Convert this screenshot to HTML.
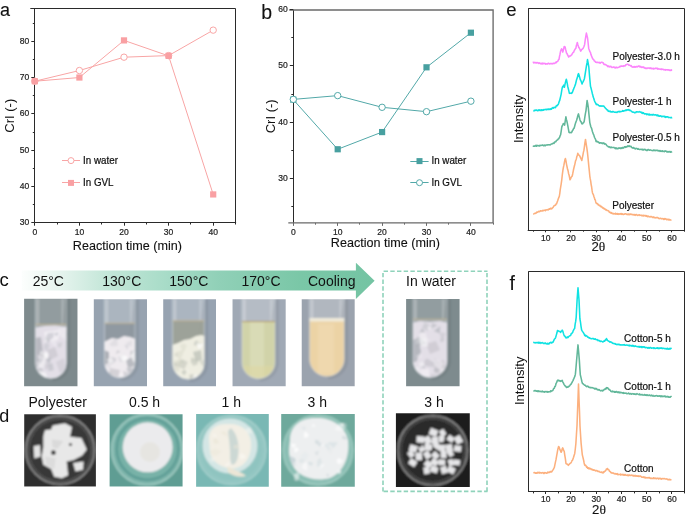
<!DOCTYPE html>
<html><head><meta charset="utf-8"><style>
html,body{margin:0;padding:0;background:#fff;}
body{width:685px;height:515px;overflow:hidden;position:relative;}
svg{position:absolute;left:0;top:0;font-family:"Liberation Sans", sans-serif;will-change:transform;}
</style></head><body>
<svg width="685" height="515" viewBox="0 0 685 515">
<line x1="34.50" y1="8.60" x2="34.50" y2="222.70" stroke="#2a2a2a" stroke-width="1" />
<line x1="30.30" y1="8.50" x2="235.60" y2="8.50" stroke="#2a2a2a" stroke-width="1" />
<line x1="235.50" y1="8.60" x2="235.50" y2="223.20" stroke="#2a2a2a" stroke-width="1" />
<line x1="34.80" y1="222.50" x2="236.10" y2="222.50" stroke="#2a2a2a" stroke-width="1" />
<line x1="31.30" y1="222.50" x2="34.80" y2="222.50" stroke="#2a2a2a" stroke-width="1" />
<text transform="translate(29.20,225.10) scale(0.93,1)" font-size="9.2" text-anchor="end" fill="#222" stroke="#222" stroke-width="0.22" >30</text>
<line x1="31.30" y1="186.50" x2="34.80" y2="186.50" stroke="#2a2a2a" stroke-width="1" />
<text transform="translate(29.20,188.85) scale(0.93,1)" font-size="9.2" text-anchor="end" fill="#222" stroke="#222" stroke-width="0.22" >40</text>
<line x1="31.30" y1="150.50" x2="34.80" y2="150.50" stroke="#2a2a2a" stroke-width="1" />
<text transform="translate(29.20,152.60) scale(0.93,1)" font-size="9.2" text-anchor="end" fill="#222" stroke="#222" stroke-width="0.22" >50</text>
<line x1="31.30" y1="113.50" x2="34.80" y2="113.50" stroke="#2a2a2a" stroke-width="1" />
<text transform="translate(29.20,116.35) scale(0.93,1)" font-size="9.2" text-anchor="end" fill="#222" stroke="#222" stroke-width="0.22" >60</text>
<line x1="31.30" y1="77.50" x2="34.80" y2="77.50" stroke="#2a2a2a" stroke-width="1" />
<text transform="translate(29.20,80.10) scale(0.93,1)" font-size="9.2" text-anchor="end" fill="#222" stroke="#222" stroke-width="0.22" >70</text>
<line x1="31.30" y1="41.50" x2="34.80" y2="41.50" stroke="#2a2a2a" stroke-width="1" />
<text transform="translate(29.20,43.85) scale(0.93,1)" font-size="9.2" text-anchor="end" fill="#222" stroke="#222" stroke-width="0.22" >80</text>
<line x1="32.80" y1="204.50" x2="34.80" y2="204.50" stroke="#2a2a2a" stroke-width="1" />
<line x1="32.80" y1="168.50" x2="34.80" y2="168.50" stroke="#2a2a2a" stroke-width="1" />
<line x1="32.80" y1="132.50" x2="34.80" y2="132.50" stroke="#2a2a2a" stroke-width="1" />
<line x1="32.80" y1="95.50" x2="34.80" y2="95.50" stroke="#2a2a2a" stroke-width="1" />
<line x1="32.80" y1="59.50" x2="34.80" y2="59.50" stroke="#2a2a2a" stroke-width="1" />
<line x1="32.80" y1="23.50" x2="34.80" y2="23.50" stroke="#2a2a2a" stroke-width="1" />
<line x1="34.50" y1="222.70" x2="34.50" y2="225.70" stroke="#2a2a2a" stroke-width="1" />
<text transform="translate(34.80,235.00) scale(0.93,1)" font-size="9.2" text-anchor="middle" fill="#222" stroke="#222" stroke-width="0.22" >0</text>
<line x1="79.50" y1="222.70" x2="79.50" y2="225.70" stroke="#2a2a2a" stroke-width="1" />
<text transform="translate(79.40,235.00) scale(0.93,1)" font-size="9.2" text-anchor="middle" fill="#222" stroke="#222" stroke-width="0.22" >10</text>
<line x1="124.50" y1="222.70" x2="124.50" y2="225.70" stroke="#2a2a2a" stroke-width="1" />
<text transform="translate(124.00,235.00) scale(0.93,1)" font-size="9.2" text-anchor="middle" fill="#222" stroke="#222" stroke-width="0.22" >20</text>
<line x1="168.50" y1="222.70" x2="168.50" y2="225.70" stroke="#2a2a2a" stroke-width="1" />
<text transform="translate(168.60,235.00) scale(0.93,1)" font-size="9.2" text-anchor="middle" fill="#222" stroke="#222" stroke-width="0.22" >30</text>
<line x1="213.50" y1="222.70" x2="213.50" y2="225.70" stroke="#2a2a2a" stroke-width="1" />
<text transform="translate(213.20,235.00) scale(0.93,1)" font-size="9.2" text-anchor="middle" fill="#222" stroke="#222" stroke-width="0.22" >40</text>
<line x1="57.50" y1="222.70" x2="57.50" y2="224.50" stroke="#2a2a2a" stroke-width="1" />
<line x1="101.50" y1="222.70" x2="101.50" y2="224.50" stroke="#2a2a2a" stroke-width="1" />
<line x1="146.50" y1="222.70" x2="146.50" y2="224.50" stroke="#2a2a2a" stroke-width="1" />
<line x1="190.50" y1="222.70" x2="190.50" y2="224.50" stroke="#2a2a2a" stroke-width="1" />
<line x1="235.50" y1="222.70" x2="235.50" y2="224.50" stroke="#2a2a2a" stroke-width="1" />
<text transform="translate(14.00,115.70) rotate(-90)" font-size="13" text-anchor="middle" fill="#111">CrI (-)</text>
<text x="127.40" y="250.00" font-size="12.6" text-anchor="middle" fill="#111" stroke="#111" stroke-width="0.12" >Reaction time (min)</text>
<text x="0.00" y="16.30" font-size="18" text-anchor="start" fill="#111" stroke="#111" stroke-width="0.12" >a</text>
<polyline points="34.80,81.22 79.40,70.52 124.00,57.18 168.60,55.59 213.20,30.14" fill="none" stroke="#F8A5A5" stroke-width="1" stroke-linejoin="round"/>
<polyline points="34.80,81.22 79.40,77.52 124.00,40.40 168.60,55.88 213.20,194.43" fill="none" stroke="#F8A5A5" stroke-width="1" stroke-linejoin="round"/>
<circle cx="34.80" cy="81.22" r="3.2" fill="#fff" stroke="#F8A5A5" stroke-width="1"/>
<circle cx="79.40" cy="70.52" r="3.2" fill="#fff" stroke="#F8A5A5" stroke-width="1"/>
<circle cx="124.00" cy="57.18" r="3.2" fill="#fff" stroke="#F8A5A5" stroke-width="1"/>
<circle cx="168.60" cy="55.59" r="3.2" fill="#fff" stroke="#F8A5A5" stroke-width="1"/>
<circle cx="213.20" cy="30.14" r="3.2" fill="#fff" stroke="#F8A5A5" stroke-width="1"/>
<rect x="31.70" y="78.12" width="6.2" height="6.2" fill="#F9A0A3"/>
<rect x="76.30" y="74.42" width="6.2" height="6.2" fill="#F9A0A3"/>
<rect x="120.90" y="37.30" width="6.2" height="6.2" fill="#F9A0A3"/>
<rect x="165.50" y="52.78" width="6.2" height="6.2" fill="#F9A0A3"/>
<rect x="210.10" y="191.33" width="6.2" height="6.2" fill="#F9A0A3"/>
<line x1="62.00" y1="160.50" x2="80.00" y2="160.50" stroke="#F8A5A5" stroke-width="1" />
<circle cx="71.00" cy="160.60" r="3.0" fill="#fff" stroke="#F8A5A5" stroke-width="1"/>
<text transform="translate(83.10,163.80) scale(0.97,1)" font-size="10.1" text-anchor="start" fill="#111" stroke="#111" stroke-width="0.22" >In water</text>
<line x1="62.00" y1="182.50" x2="80.00" y2="182.50" stroke="#F8A5A5" stroke-width="1" />
<rect x="68.00" y="179.90" width="6.0" height="6.0" fill="#F9A0A3"/>
<text transform="translate(83.10,185.90) scale(0.97,1)" font-size="10.1" text-anchor="start" fill="#111" stroke="#111" stroke-width="0.22" >In GVL</text>
<line x1="293.50" y1="10.00" x2="293.50" y2="222.90" stroke="#2a2a2a" stroke-width="1" />
<path d="M289.3,10.0 L493.1,10.0 L493.1,222.9 M288.3,222.9 L493.8,222.9" fill="none" stroke="#6a6a6a" stroke-width="1.35"/>
<line x1="289.80" y1="178.50" x2="293.30" y2="178.50" stroke="#2a2a2a" stroke-width="1" />
<text transform="translate(287.80,180.70) scale(0.93,1)" font-size="9.2" text-anchor="end" fill="#222" stroke="#222" stroke-width="0.22" >30</text>
<line x1="289.80" y1="122.50" x2="293.30" y2="122.50" stroke="#2a2a2a" stroke-width="1" />
<text transform="translate(287.80,124.53) scale(0.93,1)" font-size="9.2" text-anchor="end" fill="#222" stroke="#222" stroke-width="0.22" >40</text>
<line x1="289.80" y1="65.50" x2="293.30" y2="65.50" stroke="#2a2a2a" stroke-width="1" />
<text transform="translate(287.80,68.36) scale(0.93,1)" font-size="9.2" text-anchor="end" fill="#222" stroke="#222" stroke-width="0.22" >50</text>
<line x1="289.80" y1="9.50" x2="293.30" y2="9.50" stroke="#2a2a2a" stroke-width="1" />
<text transform="translate(287.80,12.19) scale(0.93,1)" font-size="9.2" text-anchor="end" fill="#222" stroke="#222" stroke-width="0.22" >60</text>
<line x1="291.30" y1="206.50" x2="293.30" y2="206.50" stroke="#2a2a2a" stroke-width="1" />
<line x1="291.30" y1="150.50" x2="293.30" y2="150.50" stroke="#2a2a2a" stroke-width="1" />
<line x1="291.30" y1="94.50" x2="293.30" y2="94.50" stroke="#2a2a2a" stroke-width="1" />
<line x1="291.30" y1="37.50" x2="293.30" y2="37.50" stroke="#2a2a2a" stroke-width="1" />
<line x1="293.50" y1="222.90" x2="293.50" y2="225.90" stroke="#6a6a6a" stroke-width="1" />
<text transform="translate(293.30,235.30) scale(0.93,1)" font-size="9.2" text-anchor="middle" fill="#222" stroke="#222" stroke-width="0.22" >0</text>
<line x1="337.50" y1="222.90" x2="337.50" y2="225.90" stroke="#6a6a6a" stroke-width="1" />
<text transform="translate(337.70,235.30) scale(0.93,1)" font-size="9.2" text-anchor="middle" fill="#222" stroke="#222" stroke-width="0.22" >10</text>
<line x1="382.50" y1="222.90" x2="382.50" y2="225.90" stroke="#6a6a6a" stroke-width="1" />
<text transform="translate(382.10,235.30) scale(0.93,1)" font-size="9.2" text-anchor="middle" fill="#222" stroke="#222" stroke-width="0.22" >20</text>
<line x1="426.50" y1="222.90" x2="426.50" y2="225.90" stroke="#6a6a6a" stroke-width="1" />
<text transform="translate(426.50,235.30) scale(0.93,1)" font-size="9.2" text-anchor="middle" fill="#222" stroke="#222" stroke-width="0.22" >30</text>
<line x1="470.50" y1="222.90" x2="470.50" y2="225.90" stroke="#6a6a6a" stroke-width="1" />
<text transform="translate(470.90,235.30) scale(0.93,1)" font-size="9.2" text-anchor="middle" fill="#222" stroke="#222" stroke-width="0.22" >40</text>
<line x1="315.50" y1="222.90" x2="315.50" y2="224.70" stroke="#6a6a6a" stroke-width="1" />
<line x1="359.50" y1="222.90" x2="359.50" y2="224.70" stroke="#6a6a6a" stroke-width="1" />
<line x1="404.50" y1="222.90" x2="404.50" y2="224.70" stroke="#6a6a6a" stroke-width="1" />
<line x1="448.50" y1="222.90" x2="448.50" y2="224.70" stroke="#6a6a6a" stroke-width="1" />
<line x1="493.50" y1="222.90" x2="493.50" y2="224.70" stroke="#6a6a6a" stroke-width="1" />
<text transform="translate(275.00,116.30) rotate(-90)" font-size="13" text-anchor="middle" fill="#111">CrI (-)</text>
<text x="385.40" y="247.20" font-size="12.6" text-anchor="middle" fill="#111" stroke="#111" stroke-width="0.12" >Reaction time (min)</text>
<text x="261.30" y="18.90" font-size="19.5" text-anchor="start" fill="#111" stroke="#111" stroke-width="0.12" >b</text>
<polyline points="293.30,99.66 337.70,149.26 382.10,132.07 426.50,67.31 470.90,32.71" fill="none" stroke="#52A8A8" stroke-width="1" stroke-linejoin="round"/>
<polyline points="293.30,99.38 337.70,95.62 382.10,107.30 426.50,111.68 470.90,101.18" fill="none" stroke="#52A8A8" stroke-width="1" stroke-linejoin="round"/>
<rect x="290.20" y="96.56" width="6.2" height="6.2" fill="#48A0A0"/>
<rect x="334.60" y="146.16" width="6.2" height="6.2" fill="#48A0A0"/>
<rect x="379.00" y="128.97" width="6.2" height="6.2" fill="#48A0A0"/>
<rect x="423.40" y="64.21" width="6.2" height="6.2" fill="#48A0A0"/>
<rect x="467.80" y="29.61" width="6.2" height="6.2" fill="#48A0A0"/>
<circle cx="293.30" cy="99.38" r="3.2" fill="#fff" stroke="#52A8A8" stroke-width="1"/>
<circle cx="337.70" cy="95.62" r="3.2" fill="#fff" stroke="#52A8A8" stroke-width="1"/>
<circle cx="382.10" cy="107.30" r="3.2" fill="#fff" stroke="#52A8A8" stroke-width="1"/>
<circle cx="426.50" cy="111.68" r="3.2" fill="#fff" stroke="#52A8A8" stroke-width="1"/>
<circle cx="470.90" cy="101.18" r="3.2" fill="#fff" stroke="#52A8A8" stroke-width="1"/>
<line x1="410.30" y1="161.50" x2="428.60" y2="161.50" stroke="#52A8A8" stroke-width="1" />
<rect x="416.50" y="158.10" width="6.0" height="6.0" fill="#48A0A0"/>
<text transform="translate(431.50,164.10) scale(0.94,1)" font-size="10.4" text-anchor="start" fill="#111" stroke="#111" stroke-width="0.22" >In water</text>
<line x1="410.30" y1="182.50" x2="428.60" y2="182.50" stroke="#52A8A8" stroke-width="1" />
<circle cx="419.50" cy="182.70" r="3.0" fill="#fff" stroke="#52A8A8" stroke-width="1"/>
<text transform="translate(431.50,186.10) scale(0.94,1)" font-size="10.4" text-anchor="start" fill="#111" stroke="#111" stroke-width="0.22" >In GVL</text>
<line x1="528.50" y1="8.50" x2="528.50" y2="230.10" stroke="#2a2a2a" stroke-width="1" />
<line x1="528.20" y1="8.50" x2="684.50" y2="8.50" stroke="#2a2a2a" stroke-width="1" />
<line x1="684.50" y1="8.50" x2="684.50" y2="230.60" stroke="#2a2a2a" stroke-width="1" />
<line x1="527.70" y1="230.50" x2="685.00" y2="230.50" stroke="#2a2a2a" stroke-width="1" />
<line x1="545.50" y1="230.10" x2="545.50" y2="232.30" stroke="#2a2a2a" stroke-width="1" />
<text transform="translate(545.74,240.80) scale(0.95,1)" font-size="9.0" text-anchor="middle" fill="#222" stroke="#222" stroke-width="0.22" >10</text>
<line x1="570.50" y1="230.10" x2="570.50" y2="232.30" stroke="#2a2a2a" stroke-width="1" />
<text transform="translate(570.98,240.80) scale(0.95,1)" font-size="9.0" text-anchor="middle" fill="#222" stroke="#222" stroke-width="0.22" >20</text>
<line x1="596.50" y1="230.10" x2="596.50" y2="232.30" stroke="#2a2a2a" stroke-width="1" />
<text transform="translate(596.22,240.80) scale(0.95,1)" font-size="9.0" text-anchor="middle" fill="#222" stroke="#222" stroke-width="0.22" >30</text>
<line x1="621.50" y1="230.10" x2="621.50" y2="232.30" stroke="#2a2a2a" stroke-width="1" />
<text transform="translate(621.46,240.80) scale(0.95,1)" font-size="9.0" text-anchor="middle" fill="#222" stroke="#222" stroke-width="0.22" >40</text>
<line x1="646.50" y1="230.10" x2="646.50" y2="232.30" stroke="#2a2a2a" stroke-width="1" />
<text transform="translate(646.70,240.80) scale(0.95,1)" font-size="9.0" text-anchor="middle" fill="#222" stroke="#222" stroke-width="0.22" >50</text>
<line x1="671.50" y1="230.10" x2="671.50" y2="232.30" stroke="#2a2a2a" stroke-width="1" />
<text transform="translate(671.94,240.80) scale(0.95,1)" font-size="9.0" text-anchor="middle" fill="#222" stroke="#222" stroke-width="0.22" >60</text>
<line x1="533.50" y1="230.10" x2="533.50" y2="231.70" stroke="#2a2a2a" stroke-width="1" />
<line x1="558.50" y1="230.10" x2="558.50" y2="231.70" stroke="#2a2a2a" stroke-width="1" />
<line x1="583.50" y1="230.10" x2="583.50" y2="231.70" stroke="#2a2a2a" stroke-width="1" />
<line x1="608.50" y1="230.10" x2="608.50" y2="231.70" stroke="#2a2a2a" stroke-width="1" />
<line x1="634.50" y1="230.10" x2="634.50" y2="231.70" stroke="#2a2a2a" stroke-width="1" />
<line x1="659.50" y1="230.10" x2="659.50" y2="231.70" stroke="#2a2a2a" stroke-width="1" />
<line x1="684.50" y1="230.10" x2="684.50" y2="231.70" stroke="#2a2a2a" stroke-width="1" />
<text transform="translate(523.20,118.90) rotate(-90)" font-size="13" text-anchor="middle" fill="#111">Intensity</text>
<text x="598.30" y="251.20" font-size="13.2" text-anchor="middle" fill="#111" stroke="#111" stroke-width="0.12" >2<tspan font-family="Liberation Serif" font-size="13.5">θ</tspan></text>
<text x="506.30" y="16.30" font-size="18.5" text-anchor="start" fill="#111" stroke="#111" stroke-width="0.12" >e</text>
<line x1="528.50" y1="271.30" x2="528.50" y2="491.80" stroke="#2a2a2a" stroke-width="1" />
<line x1="528.50" y1="271.50" x2="684.20" y2="271.50" stroke="#2a2a2a" stroke-width="1" />
<line x1="684.50" y1="271.30" x2="684.50" y2="492.30" stroke="#2a2a2a" stroke-width="1" />
<line x1="528.00" y1="491.50" x2="684.70" y2="491.50" stroke="#2a2a2a" stroke-width="1" />
<line x1="545.50" y1="491.80" x2="545.50" y2="494.00" stroke="#2a2a2a" stroke-width="1" />
<text transform="translate(545.74,502.40) scale(0.95,1)" font-size="9.0" text-anchor="middle" fill="#222" stroke="#222" stroke-width="0.22" >10</text>
<line x1="570.50" y1="491.80" x2="570.50" y2="494.00" stroke="#2a2a2a" stroke-width="1" />
<text transform="translate(570.98,502.40) scale(0.95,1)" font-size="9.0" text-anchor="middle" fill="#222" stroke="#222" stroke-width="0.22" >20</text>
<line x1="596.50" y1="491.80" x2="596.50" y2="494.00" stroke="#2a2a2a" stroke-width="1" />
<text transform="translate(596.22,502.40) scale(0.95,1)" font-size="9.0" text-anchor="middle" fill="#222" stroke="#222" stroke-width="0.22" >30</text>
<line x1="621.50" y1="491.80" x2="621.50" y2="494.00" stroke="#2a2a2a" stroke-width="1" />
<text transform="translate(621.46,502.40) scale(0.95,1)" font-size="9.0" text-anchor="middle" fill="#222" stroke="#222" stroke-width="0.22" >40</text>
<line x1="646.50" y1="491.80" x2="646.50" y2="494.00" stroke="#2a2a2a" stroke-width="1" />
<text transform="translate(646.70,502.40) scale(0.95,1)" font-size="9.0" text-anchor="middle" fill="#222" stroke="#222" stroke-width="0.22" >50</text>
<line x1="671.50" y1="491.80" x2="671.50" y2="494.00" stroke="#2a2a2a" stroke-width="1" />
<text transform="translate(671.94,502.40) scale(0.95,1)" font-size="9.0" text-anchor="middle" fill="#222" stroke="#222" stroke-width="0.22" >60</text>
<line x1="533.50" y1="491.80" x2="533.50" y2="493.40" stroke="#2a2a2a" stroke-width="1" />
<line x1="558.50" y1="491.80" x2="558.50" y2="493.40" stroke="#2a2a2a" stroke-width="1" />
<line x1="583.50" y1="491.80" x2="583.50" y2="493.40" stroke="#2a2a2a" stroke-width="1" />
<line x1="608.50" y1="491.80" x2="608.50" y2="493.40" stroke="#2a2a2a" stroke-width="1" />
<line x1="634.50" y1="491.80" x2="634.50" y2="493.40" stroke="#2a2a2a" stroke-width="1" />
<line x1="659.50" y1="491.80" x2="659.50" y2="493.40" stroke="#2a2a2a" stroke-width="1" />
<line x1="684.50" y1="491.80" x2="684.50" y2="493.40" stroke="#2a2a2a" stroke-width="1" />
<text transform="translate(523.60,380.80) rotate(-90)" font-size="13" text-anchor="middle" fill="#111">Intensity</text>
<text x="599.00" y="514.30" font-size="13.2" text-anchor="middle" fill="#111" stroke="#111" stroke-width="0.12" >2<tspan font-family="Liberation Serif" font-size="13.5">θ</tspan></text>
<text x="509.50" y="289.80" font-size="19.5" text-anchor="start" fill="#111" stroke="#111" stroke-width="0.12" >f</text>
<polyline points="532.70,62.42 533.17,62.30 533.63,62.84 534.10,62.31 534.57,62.82 535.03,62.70 535.50,62.44 535.97,62.93 536.43,62.51 536.90,62.95 537.37,62.64 537.83,62.70 538.30,63.08 538.77,63.53 539.23,62.88 539.70,63.02 540.17,63.47 540.63,63.83 541.10,63.50 541.57,63.36 542.03,63.98 542.50,63.09 542.97,63.94 543.43,63.41 543.90,63.30 544.37,63.32 544.83,63.55 545.30,64.10 545.77,63.50 546.23,63.94 546.70,64.04 547.17,63.75 547.63,63.89 548.10,63.38 548.57,63.35 549.03,63.47 549.50,63.92 549.97,63.64 550.43,63.50 550.90,63.75 551.37,63.59 551.83,63.41 552.30,63.87 552.77,63.75 553.23,63.27 553.70,63.57 554.20,63.28 554.70,63.39 555.20,63.00 555.70,62.32 556.20,62.77 556.70,61.66 557.20,61.72 557.80,61.29 558.40,59.92 559.00,59.49 559.50,56.31 560.00,54.20 560.50,51.56 561.05,49.92 561.60,48.78 562.20,49.96 562.80,52.10 563.27,50.23 563.73,48.45 564.20,46.56 565.10,46.94 565.57,49.18 566.03,50.84 566.50,53.16 567.02,53.44 567.55,54.95 568.08,55.77 568.60,56.99 569.12,56.64 569.64,55.92 570.16,55.85 570.68,55.95 571.20,55.12 571.68,54.85 572.17,53.83 572.65,53.07 573.13,52.29 573.62,52.28 574.10,50.93 574.70,49.88 575.30,48.86 575.90,48.17 576.37,45.61 576.83,44.22 577.30,42.55 577.80,44.45 578.30,45.95 578.80,47.56 579.25,47.85 579.70,48.87 580.15,49.68 580.60,51.08 581.06,50.80 581.52,49.63 581.98,49.30 582.44,48.99 582.90,48.63 583.47,47.55 584.03,46.32 584.60,44.66 585.10,40.85 585.60,37.72 586.40,33.07 587.00,35.57 587.60,38.25 588.15,43.29 588.70,48.42 589.30,50.05 589.90,51.64 590.50,52.55 590.96,54.58 591.42,55.64 591.88,56.91 592.34,58.02 592.80,58.79 593.28,59.42 593.77,59.74 594.25,60.88 594.73,60.93 595.22,61.55 595.70,62.31 596.20,62.32 596.70,62.55 597.20,62.32 597.70,62.33 598.20,62.54 598.70,62.54 599.20,62.86 599.70,62.43 600.20,63.17 600.70,62.81 601.20,62.25 601.70,62.25 602.20,62.25 602.68,62.65 603.17,62.79 603.65,63.90 604.13,64.43 604.62,64.28 605.10,64.68 605.64,64.61 606.18,64.94 606.72,65.50 607.26,65.74 607.80,66.63 608.25,66.04 608.71,65.98 609.16,66.98 609.61,66.63 610.06,66.33 610.52,66.80 610.97,66.36 611.42,66.94 611.88,67.47 612.33,67.43 612.78,67.34 613.24,66.98 613.69,67.16 614.14,67.04 614.59,67.72 615.05,67.56 615.50,67.88 615.95,67.34 616.41,67.15 616.86,67.65 617.31,67.74 617.77,67.52 618.22,67.39 618.67,67.31 619.13,67.15 619.58,66.55 620.03,66.75 620.49,66.50 620.94,66.09 621.39,66.00 621.85,66.17 622.30,66.06 622.78,66.33 623.27,66.42 623.75,65.75 624.23,66.07 624.72,65.95 625.20,65.76 625.68,65.00 626.17,64.69 626.65,64.53 627.13,64.33 627.62,64.17 628.10,64.42 628.59,64.97 629.08,65.18 629.57,65.09 630.06,65.53 630.55,65.95 631.04,65.50 631.53,66.35 632.02,66.87 632.51,67.01 633.00,67.25 633.48,66.92 633.97,66.56 634.45,67.11 634.93,66.60 635.42,67.01 635.90,67.12 636.38,66.49 636.87,66.43 637.35,66.92 637.83,66.64 638.32,66.03 638.80,65.93 639.26,66.06 639.72,66.93 640.18,66.94 640.64,66.39 641.09,67.19 641.55,67.45 642.01,67.24 642.47,67.04 642.93,67.35 643.39,67.05 643.85,67.04 644.31,68.11 644.76,67.90 645.22,67.89 645.68,68.41 646.14,68.02 646.60,68.57 647.06,68.55 647.52,67.95 647.99,68.01 648.45,68.07 648.91,68.04 649.37,68.40 649.83,68.09 650.30,68.27 650.76,68.00 651.22,68.80 651.68,68.26 652.14,68.39 652.60,68.53 653.07,68.87 653.53,68.41 653.99,68.92 654.45,68.53 654.91,68.57 655.38,68.59 655.84,68.10 656.30,68.54 656.75,68.34 657.21,68.22 657.66,69.08 658.11,68.51 658.56,68.87 659.02,69.18 659.47,69.07 659.92,68.90 660.38,69.15 660.83,69.24 661.28,69.53 661.74,68.91 662.19,69.43 662.64,69.17 663.09,69.26 663.55,69.81 664.00,69.61 664.46,69.69 664.91,69.92 665.37,70.10 665.82,69.65 666.28,69.85 666.73,69.77 667.19,69.81 667.64,70.01 668.10,69.80 668.56,69.91 669.01,69.88 669.47,70.37 669.92,70.16 670.38,70.37 670.83,70.46 671.29,69.80 671.74,70.13 672.20,70.10" fill="none" stroke="#FB86FB" stroke-width="1.55" stroke-linejoin="round"/>
<polyline points="533.40,111.14 533.86,111.00 534.31,110.26 534.77,110.20 535.22,110.49 535.68,110.08 536.13,110.21 536.59,110.00 537.04,110.56 537.50,110.63 537.96,110.71 538.41,109.93 538.87,110.45 539.32,110.35 539.78,109.80 540.23,110.50 540.69,110.55 541.14,109.76 541.60,110.45 542.05,109.86 542.50,109.91 542.95,110.37 543.40,110.18 543.85,109.47 544.30,109.70 544.75,109.74 545.20,109.53 545.65,109.35 546.10,109.43 546.55,109.79 547.00,109.05 547.45,109.55 547.90,109.40 548.35,108.93 548.80,109.21 549.25,109.46 549.70,109.31 550.16,108.70 550.62,109.45 551.08,109.09 551.53,109.11 551.99,108.07 552.45,108.07 552.91,107.67 553.37,108.25 553.83,107.57 554.28,107.26 554.74,107.39 555.20,107.71 555.69,107.13 556.17,106.09 556.66,105.49 557.14,105.78 557.63,104.94 558.11,104.59 558.60,103.49 559.10,101.76 559.60,100.69 560.10,98.73 560.60,96.67 561.13,94.37 561.67,90.90 562.20,87.90 562.67,86.52 563.13,86.62 563.60,85.17 564.40,87.26 564.88,84.83 565.35,82.69 565.82,80.88 566.30,79.23 566.77,81.03 567.23,83.36 567.70,86.23 568.27,88.44 568.83,90.81 569.40,93.36 569.85,93.13 570.30,93.17 570.75,93.16 571.20,93.04 571.65,93.38 572.10,92.79 572.57,91.87 573.03,90.41 573.50,89.45 573.97,87.98 574.43,87.08 574.90,85.72 575.40,84.58 575.90,82.55 576.40,80.34 576.90,78.77 577.43,77.40 577.97,74.74 578.50,73.62 579.10,75.27 579.70,77.36 580.30,79.73 580.75,80.32 581.20,81.46 581.65,82.66 582.10,83.98 582.56,82.40 583.02,81.95 583.48,80.89 583.94,79.88 584.40,78.70 584.97,75.25 585.53,71.55 586.10,68.23 586.57,65.24 587.03,62.97 587.50,59.56 588.15,63.16 588.80,66.78 589.37,73.87 589.93,80.24 590.50,86.37 590.95,87.80 591.40,89.58 591.85,91.44 592.30,93.43 592.75,94.94 593.20,97.05 593.74,98.22 594.28,100.28 594.82,101.65 595.36,102.59 595.90,103.64 596.36,104.63 596.81,104.24 597.27,104.56 597.72,104.47 598.18,105.11 598.63,105.47 599.09,105.77 599.54,105.73 600.00,106.30 600.49,105.82 600.98,106.09 601.46,105.93 601.95,106.25 602.44,105.90 602.92,105.90 603.41,106.19 603.90,106.13 604.38,106.98 604.86,107.41 605.34,108.12 605.82,108.52 606.30,109.07 606.78,109.72 607.26,109.72 607.74,110.15 608.22,111.29 608.70,110.95 609.16,111.57 609.63,111.54 610.09,110.99 610.55,111.82 611.02,111.93 611.48,111.71 611.94,111.87 612.41,111.99 612.87,111.37 613.33,111.80 613.79,111.83 614.26,112.20 614.72,112.22 615.18,112.29 615.65,112.09 616.11,112.45 616.57,112.29 617.04,112.35 617.50,111.93 617.98,111.62 618.47,111.62 618.95,111.74 619.43,111.37 619.92,111.99 620.40,111.61 620.88,111.57 621.37,111.46 621.85,111.41 622.33,111.11 622.82,110.51 623.30,111.20 623.78,111.05 624.27,110.70 624.75,110.64 625.23,110.66 625.72,109.97 626.20,110.54 626.68,109.95 627.17,109.67 627.65,109.77 628.13,110.13 628.62,109.51 629.10,109.94 629.59,110.49 630.08,110.31 630.57,110.51 631.06,110.92 631.55,111.43 632.04,111.83 632.53,111.99 633.02,112.32 633.51,112.07 634.00,112.45 634.48,112.44 634.96,112.82 635.44,112.27 635.92,112.43 636.40,111.76 636.88,111.70 637.36,111.80 637.84,112.09 638.32,112.00 638.80,111.88 639.26,111.64 639.72,112.01 640.18,112.11 640.64,112.25 641.09,112.05 641.55,112.98 642.01,112.43 642.47,113.35 642.93,113.46 643.39,112.69 643.85,113.28 644.31,113.78 644.76,114.08 645.22,113.71 645.68,113.67 646.14,113.76 646.60,114.65 647.06,113.96 647.52,114.38 647.99,113.98 648.45,114.41 648.91,114.89 649.37,114.12 649.83,114.85 650.30,114.59 650.76,115.02 651.22,114.88 651.68,114.46 652.14,115.17 652.60,114.81 653.07,114.39 653.53,114.42 653.99,114.95 654.45,114.96 654.91,114.86 655.38,114.75 655.84,115.00 656.30,115.02 656.75,115.63 657.21,114.88 657.66,115.72 658.11,115.89 658.56,115.26 659.02,116.16 659.47,116.03 659.92,116.31 660.38,115.78 660.83,115.95 661.28,116.06 661.74,116.76 662.19,116.44 662.64,116.30 663.09,116.45 663.55,116.39 664.00,116.25 664.46,116.35 664.91,117.12 665.37,116.62 665.82,117.31 666.28,116.67 666.73,116.73 667.19,117.02 667.64,116.75 668.10,116.97 668.56,117.60 669.01,117.57 669.47,117.55 669.92,117.41 670.38,117.74 670.83,117.81 671.29,117.46 671.74,117.68 672.20,117.50" fill="none" stroke="#10E2E2" stroke-width="1.55" stroke-linejoin="round"/>
<polyline points="533.00,145.65 533.48,146.29 533.95,145.98 534.42,146.24 534.90,146.09 535.38,145.70 535.85,145.42 536.33,146.26 536.80,145.43 537.27,145.73 537.75,145.57 538.23,145.49 538.70,145.89 539.18,146.09 539.65,145.34 540.12,145.69 540.60,145.30 541.08,145.54 541.55,145.36 542.02,145.11 542.50,145.09 542.98,145.11 543.45,145.79 543.93,145.37 544.40,145.07 544.88,145.74 545.35,145.81 545.83,145.24 546.30,144.91 546.78,144.95 547.25,144.83 547.73,145.06 548.20,144.79 548.65,144.79 549.11,144.67 549.56,144.83 550.02,145.01 550.47,144.72 550.93,144.24 551.38,144.10 551.84,144.06 552.29,143.77 552.75,143.58 553.20,143.16 553.65,143.00 554.10,143.31 554.55,142.09 555.00,142.08 555.45,141.83 555.90,141.68 556.35,140.66 556.80,140.33 557.25,139.93 557.70,139.70 558.18,139.01 558.67,138.79 559.15,137.95 559.63,137.24 560.12,135.66 560.60,134.93 561.20,131.16 561.80,126.90 562.30,125.64 562.80,124.92 563.30,123.50 563.95,124.24 564.60,125.13 565.25,120.93 565.90,116.86 566.40,119.47 566.90,121.25 567.40,123.61 567.93,126.39 568.47,129.49 569.00,132.38 569.50,132.72 570.00,132.58 570.50,132.59 571.00,132.78 571.50,132.56 572.02,131.69 572.54,130.22 573.06,130.00 573.58,128.49 574.10,128.22 574.60,126.43 575.10,124.56 575.60,122.87 576.10,121.47 576.60,120.34 577.08,118.82 577.55,116.66 578.02,115.05 578.50,113.92 579.00,116.08 579.50,117.99 580.00,119.92 580.50,121.25 581.00,121.61 581.50,122.85 582.00,123.96 582.55,123.83 583.10,122.89 583.65,122.51 584.20,121.48 584.80,117.43 585.40,113.65 586.00,110.56 586.55,105.60 587.10,100.51 587.70,103.67 588.30,107.60 588.80,112.84 589.30,117.65 589.80,122.56 590.32,124.73 590.84,126.75 591.36,127.81 591.88,129.37 592.40,131.44 592.86,132.71 593.33,134.16 593.79,134.86 594.25,136.65 594.71,137.78 595.17,138.73 595.64,139.62 596.10,141.57 596.58,141.15 597.05,141.90 597.52,141.54 598.00,141.77 598.48,142.55 598.95,142.32 599.42,143.21 599.90,143.00 600.40,142.72 600.90,142.80 601.40,143.03 601.90,143.32 602.40,143.64 602.90,142.87 603.40,143.16 603.90,143.01 604.38,144.10 604.87,143.59 605.35,143.83 605.83,144.16 606.32,144.82 606.80,145.65 607.28,145.96 607.77,146.13 608.25,146.72 608.73,146.98 609.22,146.70 609.70,146.89 610.16,147.71 610.62,147.60 611.08,146.96 611.54,147.67 611.99,147.46 612.45,147.53 612.91,147.57 613.37,147.48 613.83,147.39 614.29,147.74 614.75,147.89 615.21,148.57 615.66,147.82 616.12,148.73 616.58,148.05 617.04,148.28 617.50,148.82 617.98,148.76 618.47,148.32 618.95,147.87 619.43,148.24 619.92,148.08 620.40,148.57 620.88,147.78 621.37,147.90 621.85,148.37 622.33,147.45 622.82,147.77 623.30,148.11 623.75,147.90 624.20,147.01 624.65,146.83 625.10,146.70 625.55,147.39 626.00,146.56 626.45,146.88 626.90,146.87 627.35,146.14 627.80,145.91 628.25,146.42 628.70,145.92 629.18,145.78 629.66,146.45 630.15,146.27 630.63,146.45 631.11,146.39 631.59,147.36 632.07,147.74 632.55,147.68 633.04,148.21 633.52,147.51 634.00,147.93 634.46,148.25 634.92,148.81 635.37,148.89 635.83,148.40 636.29,148.35 636.75,148.60 637.21,148.75 637.66,149.26 638.12,148.59 638.58,149.29 639.04,149.31 639.49,149.47 639.95,149.50 640.41,149.41 640.87,149.21 641.33,149.28 641.78,149.40 642.24,149.90 642.70,149.28 643.15,149.42 643.61,150.01 644.06,149.53 644.51,149.37 644.97,149.37 645.42,149.91 645.87,149.71 646.33,150.39 646.78,150.32 647.23,150.45 647.69,149.76 648.14,149.60 648.59,149.64 649.05,150.07 649.50,150.31 649.95,150.07 650.41,149.89 650.86,150.10 651.31,150.33 651.77,150.41 652.22,150.51 652.67,150.63 653.13,150.48 653.58,149.96 654.03,150.71 654.49,150.19 654.94,150.49 655.39,150.32 655.85,150.71 656.30,150.20 656.75,150.29 657.21,150.33 657.66,150.28 658.12,151.06 658.57,150.79 659.03,150.58 659.48,150.70 659.93,151.34 660.39,150.89 660.84,150.66 661.30,151.28 661.75,151.17 662.21,151.55 662.66,150.70 663.11,151.12 663.57,151.50 664.02,151.57 664.48,151.69 664.93,150.85 665.39,151.15 665.84,151.02 666.29,151.13 666.75,151.96 667.20,151.61 667.66,152.00 668.11,151.49 668.57,152.02 669.02,151.65 669.47,151.50 669.93,152.06 670.38,152.27 670.84,151.48 671.29,152.01 671.75,152.08 672.20,152.00" fill="none" stroke="#62B79A" stroke-width="1.55" stroke-linejoin="round"/>
<polyline points="533.20,214.12 533.65,214.05 534.11,213.60 534.56,213.43 535.02,213.26 535.47,213.38 535.92,213.21 536.38,212.54 536.83,212.13 537.28,212.22 537.74,212.35 538.19,211.63 538.65,211.54 539.10,211.20 539.56,211.70 540.01,211.36 540.47,210.78 540.93,210.73 541.39,210.93 541.84,210.99 542.30,210.99 542.76,210.35 543.21,210.33 543.67,210.77 544.13,210.39 544.59,210.17 545.04,210.10 545.50,210.65 545.96,209.88 546.43,210.00 546.89,209.65 547.36,209.57 547.82,209.89 548.29,209.88 548.75,209.11 549.21,208.81 549.68,209.21 550.14,208.55 550.61,208.21 551.07,208.97 551.54,208.36 552.00,208.62 552.46,207.75 552.92,207.76 553.38,206.88 553.84,206.12 554.30,205.51 554.76,205.59 555.22,205.22 555.68,205.03 556.14,203.75 556.60,203.82 557.14,202.11 557.68,200.78 558.22,198.97 558.76,197.64 559.30,196.42 559.77,193.60 560.25,189.56 560.73,186.72 561.20,183.80 561.75,179.82 562.30,174.90 562.85,170.68 563.40,167.34 563.90,165.15 564.40,162.43 564.90,159.78 565.40,158.43 565.97,160.85 566.53,164.34 567.10,167.02 567.58,169.31 568.07,170.73 568.55,173.44 569.03,174.96 569.52,177.22 570.00,179.75 570.55,178.90 571.10,177.43 571.65,176.64 572.20,176.00 572.67,173.97 573.13,171.68 573.60,169.27 574.07,167.25 574.53,165.57 575.00,163.60 575.47,161.14 575.93,160.06 576.40,158.66 576.87,156.34 577.33,155.54 577.80,153.22 578.25,154.25 578.70,154.75 579.15,155.38 579.60,155.61 580.15,156.87 580.70,158.18 581.25,159.18 581.80,160.56 582.32,157.82 582.85,155.29 583.38,152.35 583.90,150.42 584.43,146.59 584.97,142.64 585.50,139.46 585.98,142.70 586.45,145.61 586.92,148.55 587.40,152.07 587.88,156.51 588.36,161.33 588.84,166.43 589.32,170.89 589.80,176.04 590.25,178.88 590.70,181.17 591.15,184.54 591.60,186.75 592.05,190.17 592.50,192.98 592.96,193.97 593.42,194.78 593.89,196.49 594.35,197.63 594.81,199.46 595.28,199.91 595.74,201.89 596.20,203.30 596.66,203.38 597.12,203.81 597.58,203.54 598.03,204.68 598.49,204.54 598.95,205.36 599.41,205.67 599.87,205.27 600.33,206.24 600.78,206.73 601.24,206.22 601.70,206.85 602.18,207.57 602.67,207.29 603.15,208.34 603.64,208.04 604.12,208.89 604.61,208.54 605.09,209.21 605.58,209.94 606.06,209.55 606.55,209.92 607.03,210.48 607.52,210.60 608.00,210.64 608.47,211.05 608.93,211.29 609.40,212.34 609.87,212.35 610.33,212.83 610.80,212.37 611.27,213.25 611.73,212.85 612.20,213.53 612.66,213.66 613.13,213.41 613.59,213.95 614.05,213.65 614.52,213.70 614.98,214.03 615.45,213.27 615.91,214.19 616.37,213.85 616.84,213.64 617.30,214.06 617.76,213.56 618.23,214.31 618.69,213.92 619.15,213.72 619.62,214.15 620.08,213.85 620.55,213.61 621.01,214.20 621.47,213.53 621.94,214.33 622.40,213.79 622.86,214.20 623.33,214.57 623.79,214.19 624.25,214.29 624.72,213.97 625.18,213.68 625.65,213.74 626.11,213.88 626.57,214.37 627.04,214.21 627.50,214.31 627.95,214.73 628.41,214.00 628.86,214.13 629.31,214.59 629.76,214.00 630.22,214.01 630.67,214.40 631.12,214.19 631.58,214.47 632.03,214.38 632.48,214.77 632.94,214.81 633.39,214.46 633.84,214.92 634.29,214.80 634.75,214.50 635.20,215.34 635.65,214.68 636.11,214.62 636.56,214.60 637.01,215.18 637.46,215.45 637.92,215.39 638.37,215.05 638.82,214.95 639.28,214.73 639.73,215.40 640.18,215.35 640.64,215.17 641.09,215.50 641.54,215.34 641.99,215.87 642.45,215.70 642.90,215.25 643.35,215.98 643.80,215.20 644.25,215.76 644.70,215.71 645.15,215.62 645.60,215.52 646.05,216.31 646.50,215.62 646.95,216.24 647.40,216.71 647.85,215.98 648.30,216.12 648.75,216.60 649.20,216.58 649.65,216.79 650.10,217.04 650.55,216.47 651.00,216.69 651.45,216.75 651.90,216.58 652.35,217.50 652.80,217.47 653.25,217.47 653.70,216.84 654.15,217.76 654.60,217.73 655.05,217.53 655.50,217.88 655.95,217.67 656.40,217.52 656.85,217.48 657.30,217.68 657.75,217.56 658.20,217.94 658.66,218.41 659.12,218.42 659.58,218.63 660.03,218.56 660.49,218.18 660.95,218.53 661.41,218.47 661.87,218.89 662.33,218.68 662.79,218.49 663.24,218.92 663.70,219.31 664.16,218.62 664.62,219.35 665.08,218.55 665.54,218.85 666.00,218.89 666.46,219.46 666.91,219.72 667.37,219.59 667.83,219.23 668.29,219.85 668.75,219.36 669.21,219.33 669.67,220.06 670.12,219.84 670.58,219.97 671.04,220.00 671.50,219.90" fill="none" stroke="#FCB07E" stroke-width="1.55" stroke-linejoin="round"/>
<text x="612.60" y="59.70" font-size="10" text-anchor="start" fill="#111" stroke="#111" stroke-width="0.22" >Polyester-3.0 h</text>
<text x="612.60" y="104.50" font-size="10" text-anchor="start" fill="#111" stroke="#111" stroke-width="0.22" >Polyester-1 h</text>
<text x="612.60" y="141.40" font-size="10" text-anchor="start" fill="#111" stroke="#111" stroke-width="0.22" >Polyester-0.5 h</text>
<text x="612.30" y="208.50" font-size="10" text-anchor="start" fill="#111" stroke="#111" stroke-width="0.22" >Polyester</text>
<polyline points="533.40,342.88 533.87,342.40 534.33,342.81 534.80,342.70 535.27,342.89 535.73,342.50 536.20,342.82 536.67,342.70 537.13,342.47 537.60,342.41 538.07,342.86 538.53,342.34 539.00,343.21 539.47,342.48 539.93,342.39 540.40,342.51 540.86,343.38 541.32,342.84 541.78,342.68 542.24,342.62 542.69,342.68 543.15,343.37 543.61,343.36 544.07,343.47 544.53,343.56 544.99,342.94 545.45,343.51 545.91,343.33 546.36,343.83 546.82,343.88 547.28,344.00 547.74,343.22 548.20,344.07 548.67,343.95 549.14,343.82 549.61,342.83 550.08,342.77 550.55,342.51 551.02,342.27 551.49,342.93 551.96,342.73 552.43,342.39 552.90,342.43 553.37,341.46 553.83,340.35 554.30,339.40 554.77,338.63 555.23,338.52 555.70,337.20 556.30,335.15 556.90,333.09 557.50,330.52 558.03,330.86 558.57,330.98 559.10,331.52 559.60,331.40 560.10,331.59 560.60,332.46 561.13,331.34 561.67,331.02 562.20,330.12 562.80,331.23 563.40,333.31 564.00,335.04 564.52,336.05 565.05,336.30 565.58,337.33 566.10,337.84 566.62,337.33 567.13,337.80 567.65,336.84 568.17,337.39 568.68,336.55 569.20,336.20 569.72,335.75 570.23,335.66 570.75,335.23 571.27,333.60 571.78,333.44 572.30,332.79 572.76,332.18 573.22,330.64 573.68,330.03 574.14,328.97 574.60,328.53 575.13,324.33 575.67,321.38 576.20,317.08 577.10,299.91 578.00,287.70 578.50,293.85 579.00,299.81 579.90,318.94 580.47,322.01 581.03,326.35 581.60,329.90 582.12,330.89 582.63,331.63 583.15,332.26 583.67,333.20 584.18,334.09 584.70,335.49 585.19,334.98 585.68,336.07 586.17,335.50 586.66,335.97 587.15,336.32 587.65,337.25 588.14,337.14 588.63,337.31 589.12,338.10 589.61,337.74 590.10,338.26 590.57,338.40 591.04,338.69 591.51,338.76 591.98,338.73 592.45,338.50 592.92,338.55 593.39,338.45 593.86,339.20 594.33,339.09 594.80,339.24 595.27,338.86 595.74,339.32 596.21,339.84 596.68,339.84 597.15,339.58 597.62,340.10 598.09,340.72 598.56,340.26 599.03,340.40 599.50,340.70 599.95,341.25 600.40,341.54 600.85,341.00 601.30,341.16 601.75,341.40 602.20,341.63 602.65,341.97 603.10,341.76 603.59,341.49 604.07,340.90 604.56,341.25 605.04,340.56 605.53,339.49 606.01,339.91 606.50,338.60 606.97,339.35 607.43,340.42 607.90,340.69 608.37,341.10 608.83,341.27 609.30,341.50 609.78,342.11 610.25,341.76 610.73,342.04 611.21,342.40 611.68,342.22 612.16,342.76 612.64,343.33 613.12,343.41 613.59,343.39 614.07,343.70 614.55,343.71 615.02,343.56 615.50,344.20 615.96,344.05 616.42,344.43 616.88,344.64 617.34,344.21 617.79,344.39 618.25,344.61 618.71,344.33 619.17,344.18 619.63,344.72 620.09,344.92 620.55,344.86 621.01,344.83 621.46,345.03 621.92,344.90 622.38,344.90 622.84,344.76 623.30,344.66 623.76,345.02 624.22,344.54 624.68,344.90 625.14,345.31 625.59,345.28 626.05,345.24 626.51,344.91 626.97,345.13 627.43,345.20 627.89,345.41 628.35,345.24 628.81,345.55 629.26,345.85 629.72,345.15 630.18,345.67 630.64,345.83 631.10,345.49 631.56,345.65 632.01,346.20 632.47,345.32 632.92,345.89 633.38,345.57 633.84,346.25 634.29,346.47 634.75,346.11 635.20,345.76 635.66,346.29 636.11,346.32 636.57,346.56 637.03,346.42 637.48,346.60 637.94,346.86 638.39,346.61 638.85,346.56 639.31,347.16 639.76,346.48 640.22,347.02 640.67,346.79 641.13,347.22 641.59,346.64 642.04,347.57 642.50,347.00 642.95,346.76 643.41,347.04 643.86,347.23 644.32,346.90 644.78,347.37 645.23,347.44 645.69,347.77 646.14,347.49 646.60,347.47 647.06,347.45 647.52,347.98 647.98,348.20 648.44,347.81 648.89,347.52 649.35,348.13 649.81,347.74 650.27,347.58 650.73,347.51 651.19,348.18 651.65,348.24 652.11,348.08 652.56,347.94 653.02,348.05 653.48,347.73 653.94,348.49 654.40,347.90 654.86,348.21 655.32,348.41 655.78,348.43 656.24,348.10 656.69,347.95 657.15,348.22 657.61,347.82 658.07,348.55 658.53,348.09 658.99,348.61 659.45,348.04 659.91,348.17 660.36,348.07 660.82,348.26 661.28,348.04 661.74,347.88 662.20,348.62 662.67,348.21 663.13,348.19 663.60,348.28 664.06,348.48 664.53,348.45 664.99,348.69 665.46,348.73 665.92,348.46 666.38,349.05 666.85,349.00 667.32,348.23 667.78,349.03 668.25,349.13 668.71,349.03 669.17,348.42 669.64,349.13 670.11,348.96 670.57,348.36 671.03,348.39 671.50,348.90" fill="none" stroke="#10E2E2" stroke-width="1.55" stroke-linejoin="round"/>
<polyline points="533.40,391.35 533.87,391.08 534.33,390.69 534.80,390.56 535.27,390.62 535.73,390.73 536.20,391.30 536.67,390.89 537.13,390.71 537.60,391.48 538.07,391.39 538.53,390.79 539.00,391.53 539.47,391.27 539.93,391.46 540.40,391.37 540.86,391.65 541.32,391.61 541.78,391.72 542.24,391.13 542.69,391.69 543.15,391.58 543.61,391.85 544.07,391.61 544.53,392.11 544.99,391.84 545.45,391.61 545.91,391.64 546.36,391.60 546.82,392.02 547.28,391.64 547.74,392.11 548.20,391.84 548.68,392.01 549.16,391.84 549.63,391.71 550.11,391.85 550.59,390.82 551.07,391.47 551.54,390.92 552.02,390.84 552.50,390.77 552.95,390.22 553.40,389.04 553.85,388.37 554.30,388.19 554.75,386.59 555.20,386.44 555.66,385.18 556.12,383.31 556.58,382.63 557.04,381.44 557.50,380.43 558.03,379.96 558.57,380.75 559.10,380.41 559.60,380.68 560.10,381.40 560.60,380.83 561.13,381.22 561.67,380.83 562.20,380.24 562.80,382.10 563.40,382.93 564.00,384.37 564.50,385.05 565.00,385.91 565.50,385.97 566.00,386.82 566.50,387.42 567.02,387.30 567.53,387.33 568.05,386.54 568.57,386.83 569.08,386.15 569.60,386.00 570.09,385.03 570.57,384.52 571.06,384.25 571.54,383.18 572.03,382.58 572.51,381.37 573.00,380.62 573.48,379.36 573.96,378.41 574.44,377.21 574.92,376.12 575.40,374.14 576.00,367.47 576.60,360.29 577.07,355.01 577.53,349.58 578.00,344.90 578.65,352.01 579.30,359.59 579.80,367.67 580.30,374.71 580.82,376.91 581.35,379.19 581.88,381.46 582.40,383.31 582.89,383.70 583.38,384.10 583.86,384.56 584.35,384.85 584.84,385.32 585.32,385.24 585.81,386.08 586.30,386.26 586.76,386.68 587.22,386.14 587.68,386.34 588.14,386.32 588.60,387.17 589.06,387.43 589.52,387.30 589.98,387.13 590.44,387.70 590.90,387.79 591.36,387.68 591.82,387.50 592.28,387.66 592.74,387.90 593.20,387.92 593.68,388.18 594.17,388.55 594.65,389.00 595.14,388.27 595.62,388.94 596.11,388.56 596.59,388.80 597.08,389.64 597.56,389.56 598.05,390.06 598.53,389.74 599.02,389.46 599.50,389.99 599.95,390.29 600.40,390.74 600.85,390.88 601.30,390.48 601.75,390.51 602.20,390.30 602.65,390.94 603.10,390.61 603.59,390.14 604.08,389.59 604.56,389.17 605.05,389.43 605.54,388.46 606.02,388.89 606.51,387.60 607.00,387.97 607.49,387.68 607.98,388.02 608.46,389.17 608.95,389.14 609.44,390.08 609.92,389.99 610.41,390.30 610.90,391.47 611.36,391.48 611.82,391.69 612.28,391.63 612.74,391.05 613.20,391.66 613.66,391.81 614.11,391.63 614.57,392.17 615.03,391.55 615.49,392.33 615.95,392.15 616.41,391.51 616.87,391.58 617.33,392.28 617.79,392.52 618.25,391.85 618.71,392.14 619.17,392.63 619.63,392.13 620.09,392.89 620.54,392.59 621.00,392.23 621.46,392.60 621.92,392.87 622.38,392.81 622.84,393.11 623.30,392.64 623.76,393.34 624.21,392.94 624.67,393.26 625.12,393.28 625.58,393.11 626.04,393.12 626.49,393.55 626.95,393.75 627.40,393.63 627.86,393.45 628.31,393.21 628.77,393.02 629.23,393.97 629.68,393.74 630.14,393.90 630.59,393.44 631.05,393.76 631.51,394.17 631.96,394.06 632.42,393.87 632.87,393.61 633.33,393.77 633.79,394.27 634.24,393.79 634.70,394.14 635.15,394.10 635.61,394.43 636.06,394.38 636.52,393.89 636.98,393.65 637.43,393.95 637.89,394.15 638.34,394.35 638.80,394.62 639.26,394.73 639.72,393.93 640.18,394.77 640.64,394.79 641.09,394.89 641.55,394.64 642.01,394.38 642.47,395.00 642.93,395.00 643.39,394.93 643.85,395.20 644.31,394.68 644.76,394.46 645.22,394.97 645.68,395.26 646.14,394.71 646.60,395.30 647.06,395.53 647.52,394.87 647.98,395.29 648.44,395.40 648.89,395.24 649.35,395.02 649.81,395.11 650.27,395.65 650.73,395.74 651.19,395.45 651.65,395.12 652.11,395.89 652.56,395.90 653.02,395.40 653.48,395.79 653.94,396.15 654.40,396.19 654.85,395.85 655.30,395.83 655.75,395.98 656.20,395.60 656.65,395.64 657.10,395.65 657.55,396.20 658.00,395.89 658.45,396.12 658.90,395.99 659.35,396.14 659.80,395.80 660.25,395.72 660.70,396.70 661.15,396.11 661.60,395.87 662.05,396.42 662.50,396.61 662.95,396.01 663.40,396.48 663.85,396.25 664.30,396.46 664.75,395.99 665.20,396.03 665.65,397.01 666.10,396.92 666.55,396.57 667.00,396.68 667.45,396.40 667.90,396.95 668.35,396.62 668.80,397.17 669.25,397.02 669.70,397.10 670.15,397.28 670.60,396.60 671.05,396.41 671.50,396.90" fill="none" stroke="#62B79A" stroke-width="1.55" stroke-linejoin="round"/>
<polyline points="533.30,472.80 533.76,472.75 534.21,472.61 534.67,472.54 535.13,473.01 535.59,473.29 536.04,472.84 536.50,473.30 536.96,473.22 537.41,472.34 537.87,472.84 538.33,472.60 538.79,472.29 539.24,473.10 539.70,472.36 540.18,472.71 540.67,472.82 541.15,473.18 541.63,472.94 542.12,472.70 542.60,472.80 543.08,472.55 543.57,473.40 544.05,473.47 544.53,472.74 545.02,472.60 545.50,472.86 545.96,472.83 546.41,473.26 546.87,473.14 547.33,472.95 547.79,472.04 548.24,472.66 548.70,472.46 549.16,472.28 549.61,472.49 550.07,471.44 550.53,471.41 550.99,471.90 551.44,471.96 551.90,471.58 552.38,470.50 552.86,470.09 553.34,469.56 553.82,468.21 554.30,467.72 554.87,464.92 555.43,462.06 556.00,459.68 556.60,456.07 557.20,452.84 557.80,449.44 558.60,446.48 559.20,447.26 559.80,449.42 560.45,450.65 561.10,452.24 561.63,451.36 562.17,448.89 562.70,447.83 563.20,449.13 563.70,450.52 564.20,451.14 564.80,455.35 565.40,458.90 566.00,463.63 566.46,463.90 566.92,464.05 567.38,464.23 567.84,464.48 568.30,465.32 568.76,464.66 569.22,464.49 569.68,463.68 570.14,463.44 570.60,462.96 571.08,462.75 571.56,461.73 572.04,460.46 572.52,460.33 573.00,458.87 573.57,457.28 574.13,455.29 574.70,453.67 575.30,448.99 575.90,443.23 576.45,434.27 577.00,425.79 577.50,411.82 578.00,398.60 578.50,384.01 579.00,398.68 579.50,411.56 580.00,426.20 580.55,434.77 581.10,443.11 581.70,449.18 582.30,454.79 582.76,456.64 583.22,458.46 583.68,460.50 584.14,463.01 584.60,464.90 585.10,465.41 585.60,465.16 586.10,465.94 586.60,467.13 587.10,466.87 587.60,468.13 588.06,467.86 588.52,468.72 588.98,467.93 589.44,468.89 589.90,468.59 590.36,468.56 590.82,468.59 591.28,469.59 591.74,469.46 592.20,469.29 592.65,469.67 593.11,470.29 593.56,469.73 594.02,470.23 594.47,469.93 594.92,470.11 595.38,470.84 595.83,470.92 596.28,470.54 596.74,470.56 597.19,470.71 597.65,471.37 598.10,471.40 598.55,471.30 599.01,471.36 599.46,471.89 599.92,472.12 600.37,472.35 600.83,472.25 601.28,471.99 601.74,471.98 602.19,472.78 602.65,472.58 603.10,473.02 603.59,471.88 604.08,472.16 604.57,471.20 605.06,471.23 605.54,470.78 606.03,469.93 606.52,468.97 607.01,469.39 607.50,468.48 607.99,469.49 608.47,469.49 608.96,470.03 609.44,471.29 609.93,471.44 610.41,471.85 610.90,472.67 611.35,472.99 611.81,472.49 612.26,473.10 612.71,473.12 613.16,473.29 613.62,472.99 614.07,473.67 614.52,473.87 614.98,474.01 615.43,473.56 615.88,474.05 616.34,473.81 616.79,474.27 617.24,473.68 617.69,474.58 618.15,474.76 618.60,474.39 619.06,474.46 619.52,474.52 619.98,474.58 620.44,474.11 620.89,475.10 621.35,474.41 621.81,474.41 622.27,474.38 622.73,474.57 623.19,475.19 623.65,474.45 624.11,474.56 624.56,475.21 625.02,474.75 625.48,474.62 625.94,475.25 626.40,475.28 626.86,475.25 627.32,475.46 627.78,474.89 628.24,475.69 628.70,475.57 629.16,474.92 629.61,475.03 630.07,475.43 630.53,475.47 630.99,475.28 631.45,475.15 631.91,475.46 632.37,475.22 632.83,475.71 633.29,476.01 633.75,475.32 634.21,475.78 634.67,475.98 635.13,475.43 635.59,476.12 636.04,476.26 636.50,475.74 636.96,475.80 637.42,476.25 637.88,475.97 638.34,475.87 638.80,476.44 639.26,476.38 639.72,476.05 640.18,476.06 640.64,476.26 641.09,476.46 641.55,477.12 642.01,477.05 642.47,477.26 642.93,477.27 643.39,477.41 643.85,476.72 644.31,477.29 644.76,477.83 645.22,477.92 645.68,477.34 646.14,477.62 646.60,477.93 647.06,477.69 647.52,477.88 647.98,477.45 648.44,477.84 648.89,477.94 649.35,477.48 649.81,477.62 650.27,478.48 650.73,478.31 651.19,478.50 651.65,478.22 652.11,478.43 652.56,478.53 653.02,478.56 653.48,477.73 653.94,478.37 654.40,478.02 654.86,478.45 655.32,478.08 655.78,478.37 656.24,478.78 656.69,478.50 657.15,478.16 657.61,478.46 658.07,478.40 658.53,478.94 658.99,478.30 659.45,478.35 659.91,478.72 660.36,478.21 660.82,478.71 661.28,479.10 661.74,478.69 662.20,478.47 662.67,478.72 663.13,478.84 663.60,478.51 664.06,478.54 664.53,478.61 664.99,478.82 665.46,478.99 665.92,478.93 666.38,478.94 666.85,478.84 667.32,479.35 667.78,479.70 668.25,479.52 668.71,479.54 669.17,479.68 669.64,479.28 670.11,479.85 670.57,479.65 671.03,479.79 671.50,479.80" fill="none" stroke="#FCB07E" stroke-width="1.55" stroke-linejoin="round"/>
<text x="624.10" y="341.80" font-size="10" text-anchor="start" fill="#111" stroke="#111" stroke-width="0.22" >Cotton-5 h</text>
<text x="624.10" y="389.90" font-size="10" text-anchor="start" fill="#111" stroke="#111" stroke-width="0.22" >Cotton-1 h</text>
<text x="624.10" y="472.10" font-size="10" text-anchor="start" fill="#111" stroke="#111" stroke-width="0.22" >Cotton</text>
<defs>
<linearGradient id="arrowg" gradientUnits="userSpaceOnUse" x1="22" y1="0" x2="375" y2="0">
<stop offset="0" stop-color="#fcfefd"/><stop offset="0.108" stop-color="#e6f4ee"/><stop offset="0.221" stop-color="#c8e8db"/><stop offset="0.405" stop-color="#a8dcc8"/><stop offset="0.561" stop-color="#90d0b7"/><stop offset="0.788" stop-color="#7ac7a7"/><stop offset="1" stop-color="#74c4a3"/>
</linearGradient>
<filter id="bl" x="-5%" y="-5%" width="110%" height="110%"><feGaussianBlur stdDeviation="0.85"/></filter>
<filter id="bl2" x="-5%" y="-5%" width="110%" height="110%"><feGaussianBlur stdDeviation="1.2"/></filter>
<linearGradient id="glass" x1="0" y1="0" x2="1" y2="0">
<stop offset="0" stop-color="#ffffff" stop-opacity="0.05"/><stop offset="0.15" stop-color="#ffffff" stop-opacity="0.35"/><stop offset="0.3" stop-color="#ffffff" stop-opacity="0.08"/><stop offset="0.7" stop-color="#ffffff" stop-opacity="0.08"/><stop offset="0.85" stop-color="#ffffff" stop-opacity="0.3"/><stop offset="1" stop-color="#ffffff" stop-opacity="0.05"/>
</linearGradient>
</defs>
<text x="-0.5" y="285.7" font-size="18.5" fill="#111">c</text>
<text x="-0.8" y="421.7" font-size="18" fill="#111">d</text>
<path d="M21.8,270.6 L355.9,270.6 L355.9,262.8 L374.6,280.8 L355.9,298.9 L355.9,290.5 L21.8,290.5 Z" fill="url(#arrowg)"/>
<text x="32.7" y="286.2" font-size="14" fill="#111">25°C</text>
<text x="102.2" y="286.2" font-size="14" fill="#111">130°C</text>
<text x="169.3" y="286.2" font-size="14" fill="#111">150°C</text>
<text x="241.5" y="286.2" font-size="14" fill="#111">170°C</text>
<text x="308.0" y="286.2" font-size="14" fill="#111">Cooling</text>
<line x1="383.6" y1="271.3" x2="487.5" y2="271.3" stroke="#8fd3bb" stroke-width="1.6" stroke-dasharray="4.4 2.3"/>
<line x1="383" y1="272.9" x2="383" y2="491.5" stroke="#8fd3bb" stroke-width="1.6" stroke-dasharray="4.4 2.3"/>
<line x1="487" y1="272.9" x2="487" y2="491.5" stroke="#8fd3bb" stroke-width="1.6" stroke-dasharray="4.4 2.3"/>
<line x1="383.6" y1="491.4" x2="487.5" y2="491.4" stroke="#8fd3bb" stroke-width="1.6" stroke-dasharray="4.4 2.3"/>
<text x="406.1" y="286" font-size="14" fill="#111">In water</text>
<text x="28.5" y="407.4" font-size="14" fill="#111">Polyester</text>
<text x="129" y="407.4" font-size="14" fill="#111">0.5 h</text>
<text x="221.6" y="407.4" font-size="14" fill="#111">1 h</text>
<text x="307.6" y="407.4" font-size="14" fill="#111">3 h</text>
<text x="424.3" y="407.4" font-size="14" fill="#111">3 h</text>
<clipPath id="c1"><rect x="24.1" y="298.8" width="53.4" height="87.39999999999998"/></clipPath>
<clipPath id="c1L"><path d="M35.5,324.5 L35.5,362.90000000000003 A15.399999999999999,15.399999999999999 0 0 0 66.3,362.90000000000003 L66.3,324.5 Z"/></clipPath>
<g clip-path="url(#c1)"><g filter="url(#bl)">
<rect x="22.1" y="296.8" width="57.4" height="91.39999999999998" fill="#7e8a8d"/>
<path d="M66.3,298.8 L70.3,298.8 L70.3,364.90000000000003 A18.4,18.4 0 0 1 52.9,381.3 L50.9,378.3 Z" fill="#000" opacity="0.07"/>
<path d="M35.5,295.8 L35.5,362.90000000000003 A15.399999999999999,15.399999999999999 0 0 0 66.3,362.90000000000003 L66.3,295.8 Z" fill="#ffffff" opacity="0.16"/>
<path d="M35.5,324.5 L35.5,362.90000000000003 A15.399999999999999,15.399999999999999 0 0 0 66.3,362.90000000000003 L66.3,324.5 Z" fill="#a9b0b4" opacity="0.8"/>
<g clip-path="url(#c1L)">
<polygon points="34.0,328.0 45.0,326.0 55.0,325.5 67.0,327.0 67.0,381.0 34.0,381.0" fill="#e3dfe7" opacity="1"/>
<polygon points="35.0,338.0 41.0,337.0 43.0,352.0 39.0,366.0 35.0,368.0" fill="#a6a8b0" opacity="0.7"/>
<polygon points="47.0,350.0 55.0,347.0 58.0,356.0 50.0,360.0" fill="#c9c6cf" opacity="0.7"/>
<polygon points="56.0,362.0 64.0,358.0 66.0,370.0 60.0,373.0" fill="#cfccd4" opacity="0.7"/>
<polygon points="44.0,332.0 60.0,330.0 58.0,340.0 46.0,341.0" fill="#f2eff4" opacity="0.9"/>
<polygon points="42.7,372.9 36.1,374.6 37.0,367.7 42.5,368.0" fill="#c4c2ca" opacity="0.68"/>
<polygon points="43.1,339.7 50.6,338.1 49.3,343.0" fill="#b4b6be" opacity="0.39"/>
<polygon points="42.7,365.4 46.2,359.1 51.2,364.5 46.3,369.7" fill="#c4c2ca" opacity="0.5"/>
<polygon points="48.2,371.3 48.5,365.0 52.6,363.0 53.8,370.2" fill="#b4b6be" opacity="0.51"/>
<polygon points="37.9,358.3 41.1,350.1 48.7,358.7" fill="#ffffff" opacity="0.52"/>
<polygon points="47.1,342.8 49.8,345.0 47.3,350.3 44.3,349.8 43.6,344.4" fill="#b4b6be" opacity="0.37"/>
<polygon points="38.5,353.7 42.5,354.4 43.2,358.8 38.0,357.3" fill="#c4c2ca" opacity="0.6"/>
<polygon points="44.5,360.5 43.7,365.6 40.8,367.1 38.4,366.0 39.3,361.4" fill="#f4f2f6" opacity="0.35"/>
<polygon points="56.3,331.9 59.3,328.6 66.7,327.0 67.0,331.8 62.4,337.7" fill="#f4f2f6" opacity="0.47"/>
<polygon points="38.1,367.8 36.8,362.6 43.5,357.2 46.8,360.4 44.3,368.2" fill="#f4f2f6" opacity="0.55"/>
<polygon points="62.6,342.3 61.0,347.4 58.0,347.3 57.4,343.2" fill="#b4b6be" opacity="0.35"/>
<polygon points="56.6,336.4 54.2,333.4 58.8,332.0" fill="#b4b6be" opacity="0.6"/>
<polygon points="48.0,340.4 44.5,342.6 45.2,337.3" fill="#ffffff" opacity="0.58"/>
<polygon points="41.9,357.5 42.9,352.5 46.3,357.3" fill="#b4b6be" opacity="0.44"/>
<polygon points="40.6,364.0 35.6,357.0 43.6,358.4" fill="#b4b6be" opacity="0.38"/>
<polygon points="65.5,332.9 68.6,342.1 60.8,337.0" fill="#f4f2f6" opacity="0.41"/>
<polygon points="48.0,341.9 45.3,338.5 47.7,333.3 53.8,332.6 53.5,337.6" fill="#b4b6be" opacity="0.49"/>
<polygon points="50.2,363.2 45.6,359.7 50.8,356.5" fill="#b4b6be" opacity="0.69"/>
<polygon points="45.3,372.4 47.2,376.2 40.9,379.5 37.8,375.8 39.5,371.1" fill="#ffffff" opacity="0.6"/>
<polygon points="48.5,354.2 46.8,358.4 43.4,355.7 45.0,352.0 47.9,352.5" fill="#ffffff" opacity="0.69"/>
<polygon points="37.4,354.8 43.3,356.9 38.8,361.5" fill="#f4f2f6" opacity="0.45"/>
<polygon points="48.3,339.8 56.0,337.4 56.2,347.7" fill="#f4f2f6" opacity="0.38"/>

</g>
<rect x="36.7" y="298.8" width="2.4" height="25.69999999999999" fill="#fff" opacity="0.28"/>
<rect x="61.5" y="298.8" width="2.2" height="25.69999999999999" fill="#fff" opacity="0.25"/>
<path d="M35.5,295.8 L35.5,362.90000000000003 A15.399999999999999,15.399999999999999 0 0 0 66.3,362.90000000000003 L66.3,295.8 Z" fill="none" stroke="#dfe6ea" stroke-width="0.9" opacity="0.55"/>
<line x1="35.5" y1="324.5" x2="66.3" y2="324.5" stroke="#c9b68a" stroke-width="1" opacity="0.8"/>
</g></g>
<clipPath id="c2"><rect x="93.8" y="299.2" width="53.2" height="87.10000000000002"/></clipPath>
<clipPath id="c2L"><path d="M104.5,323.2 L104.5,362.35 A15.25,15.25 0 0 0 135.0,362.35 L135.0,323.2 Z"/></clipPath>
<g clip-path="url(#c2)"><g filter="url(#bl)">
<rect x="91.8" y="297.2" width="57.2" height="91.10000000000002" fill="#97a3b0"/>
<path d="M135.0,299.2 L139.0,299.2 L139.0,364.35 A18.25,18.25 0 0 1 121.75,380.6 L119.75,377.6 Z" fill="#000" opacity="0.07"/>
<path d="M104.5,296.2 L104.5,362.35 A15.25,15.25 0 0 0 135.0,362.35 L135.0,296.2 Z" fill="#ffffff" opacity="0.2"/>
<path d="M104.5,323.2 L104.5,362.35 A15.25,15.25 0 0 0 135.0,362.35 L135.0,323.2 Z" fill="#8d969d" opacity="0.9"/>
<g clip-path="url(#c2L)">
<polygon points="104.0,342.0 108.0,340.0 112.0,338.0 118.0,339.0 124.0,336.0 130.0,337.0 136.0,339.0 136.0,380.0 104.0,380.0" fill="#efebef" opacity="1"/>
<polygon points="104.0,350.0 109.0,352.0 109.0,362.0 104.0,366.0" fill="#7f878f" opacity="0.6"/>
<polygon points="126.0,360.0 134.0,356.0 135.0,366.0 128.0,368.0" fill="#838b93" opacity="0.5"/>
<polygon points="110.0,368.0 120.0,370.0 118.0,378.0 108.0,378.0" fill="#b9b9bf" opacity="0.5"/>
<polygon points="132.5,377.3 132.8,373.0 136.5,377.2" fill="#ffffff" opacity="0.54"/>
<polygon points="115.7,354.0 117.3,350.1 120.7,351.8" fill="#a9adb4" opacity="0.41"/>
<polygon points="132.6,367.8 136.5,371.7 130.4,376.1 126.1,368.3" fill="#a9adb4" opacity="0.6"/>
<polygon points="125.1,353.9 125.2,361.6 119.8,362.0 118.2,357.0" fill="#d0d0d6" opacity="0.62"/>
<polygon points="117.8,345.9 111.7,346.4 109.3,344.2 115.0,338.6 117.3,339.6" fill="#d0d0d6" opacity="0.48"/>
<polygon points="107.4,372.2 110.8,372.7 112.8,376.6 106.4,380.2 103.8,376.0" fill="#a9adb4" opacity="0.59"/>
<polygon points="125.7,343.0 132.1,340.1 131.7,346.7" fill="#d0d0d6" opacity="0.41"/>
<polygon points="111.0,363.4 110.4,368.7 106.7,367.1 104.3,365.3 107.0,361.9" fill="#d0d0d6" opacity="0.36"/>
<polygon points="124.6,362.1 121.0,360.4 124.4,354.3 128.8,358.8" fill="#ffffff" opacity="0.59"/>
<polygon points="138.4,355.5 130.3,356.4 130.2,351.1 136.0,350.4" fill="#a9adb4" opacity="0.48"/>
<polygon points="127.5,350.1 124.1,345.1 128.9,344.3" fill="#d0d0d6" opacity="0.63"/>
<polygon points="116.0,357.9 116.2,360.8 112.9,363.7 109.3,363.7 110.5,356.8" fill="#a9adb4" opacity="0.36"/>
<polygon points="133.3,361.9 130.6,355.9 133.8,350.7 138.6,353.3 136.6,360.6" fill="#ffffff" opacity="0.66"/>
<polygon points="109.7,363.8 106.1,359.4 111.6,357.4 113.8,361.9" fill="#ffffff" opacity="0.51"/>
<polygon points="130.8,374.8 123.8,377.0 123.3,370.6" fill="#a9adb4" opacity="0.4"/>
<polygon points="124.6,360.3 120.6,359.0 120.0,355.5 124.7,354.8 126.8,358.4" fill="#ffffff" opacity="0.59"/>
<polygon points="125.9,373.7 129.5,369.8 129.6,375.6" fill="#d0d0d6" opacity="0.52"/>
<polygon points="119.8,377.0 119.7,373.9 122.2,372.7 123.2,375.5" fill="#ffffff" opacity="0.37"/>

</g>
<rect x="105.7" y="299.2" width="2.4" height="24.0" fill="#fff" opacity="0.28"/>
<rect x="130.2" y="299.2" width="2.2" height="24.0" fill="#fff" opacity="0.25"/>
<path d="M104.5,296.2 L104.5,362.35 A15.25,15.25 0 0 0 135.0,362.35 L135.0,296.2 Z" fill="none" stroke="#dfe6ea" stroke-width="0.9" opacity="0.55"/>
<line x1="104.5" y1="323.2" x2="135.0" y2="323.2" stroke="#c9b68a" stroke-width="1" opacity="0.8"/>
</g></g>
<clipPath id="c3"><rect x="163.2" y="299.2" width="52.80000000000001" height="87.10000000000002"/></clipPath>
<clipPath id="c3L"><path d="M172.6,320.8 L172.6,363.34999999999997 A15.850000000000009,15.850000000000009 0 0 0 204.3,363.34999999999997 L204.3,320.8 Z"/></clipPath>
<g clip-path="url(#c3)"><g filter="url(#bl)">
<rect x="161.2" y="297.2" width="56.80000000000001" height="91.10000000000002" fill="#97a3b1"/>
<path d="M204.3,299.2 L208.3,299.2 L208.3,365.34999999999997 A18.85000000000001,18.85000000000001 0 0 1 190.45,382.2 L188.45,379.2 Z" fill="#000" opacity="0.07"/>
<path d="M172.6,296.2 L172.6,363.34999999999997 A15.850000000000009,15.850000000000009 0 0 0 204.3,363.34999999999997 L204.3,296.2 Z" fill="#ffffff" opacity="0.2"/>
<path d="M172.6,320.8 L172.6,363.34999999999997 A15.850000000000009,15.850000000000009 0 0 0 204.3,363.34999999999997 L204.3,320.8 Z" fill="#9ba095" opacity="0.9"/>
<g clip-path="url(#c3L)">
<polygon points="172.0,345.0 178.0,343.0 184.0,340.0 190.0,339.0 196.0,336.0 201.0,335.0 205.0,336.0 205.0,382.0 172.0,382.0" fill="#efeee2" opacity="1"/>
<polygon points="193.0,352.0 201.0,350.0 202.0,360.0 196.0,362.0" fill="#a9b0a8" opacity="0.55"/>
<polygon points="174.0,360.0 180.0,362.0 179.0,372.0 174.0,370.0" fill="#d8d8cc" opacity="0.6"/>
<polygon points="176.7,361.6 179.2,358.8 182.7,360.8 184.7,363.0 179.4,364.2" fill="#d9d9cc" opacity="0.64"/>
<polygon points="181.9,359.0 187.8,362.0 184.3,369.4 176.6,365.5" fill="#b9bdb4" opacity="0.49"/>
<polygon points="185.2,348.6 180.3,360.0 174.0,353.6" fill="#d9d9cc" opacity="0.52"/>
<polygon points="190.9,361.3 191.4,356.4 196.7,362.4" fill="#d9d9cc" opacity="0.46"/>
<polygon points="177.2,364.1 174.9,367.1 173.3,362.2" fill="#b9bdb4" opacity="0.55"/>
<polygon points="189.6,374.5 194.4,374.4 194.9,379.1 189.5,380.5" fill="#b9bdb4" opacity="0.6"/>
<polygon points="198.5,342.7 196.7,345.8 193.6,345.0 194.7,341.7 197.0,340.2" fill="#b9bdb4" opacity="0.59"/>
<polygon points="173.6,355.7 177.5,351.5 178.2,357.1" fill="#d9d9cc" opacity="0.65"/>
<polygon points="182.9,374.1 181.2,372.1 184.1,369.7 186.9,371.4 184.2,375.4" fill="#b9bdb4" opacity="0.61"/>
<polygon points="206.1,359.0 203.5,367.3 199.3,361.6" fill="#b9bdb4" opacity="0.45"/>
<polygon points="197.8,364.3 193.4,365.9 190.7,361.9 191.3,357.8 196.9,358.8" fill="#b9bdb4" opacity="0.5"/>
<polygon points="187.3,369.2 189.2,371.8 186.1,371.6" fill="#ffffff" opacity="0.42"/>
<polygon points="183.5,343.2 187.0,345.6 184.5,350.2 181.6,349.1 179.8,345.6" fill="#d9d9cc" opacity="0.5"/>
<polygon points="200.5,372.5 204.6,377.3 200.9,379.4 199.1,377.7 197.8,374.6" fill="#d9d9cc" opacity="0.47"/>
<polygon points="201.6,341.7 201.3,344.2 197.2,345.2 196.8,342.3" fill="#d9d9cc" opacity="0.51"/>
<polygon points="192.6,379.4 193.1,375.2 196.2,374.1 198.0,377.6 196.9,380.0" fill="#ffffff" opacity="0.56"/>
<polygon points="196.1,343.2 203.7,343.9 199.3,350.1" fill="#ffffff" opacity="0.63"/>
<polygon points="178.7,359.9 182.9,364.3 178.8,365.6 175.5,362.8" fill="#d9d9cc" opacity="0.58"/>

</g>
<rect x="173.79999999999998" y="299.2" width="2.4" height="21.600000000000023" fill="#fff" opacity="0.28"/>
<rect x="199.5" y="299.2" width="2.2" height="21.600000000000023" fill="#fff" opacity="0.25"/>
<path d="M172.6,296.2 L172.6,363.34999999999997 A15.850000000000009,15.850000000000009 0 0 0 204.3,363.34999999999997 L204.3,296.2 Z" fill="none" stroke="#dfe6ea" stroke-width="0.9" opacity="0.55"/>
<line x1="172.6" y1="320.8" x2="204.3" y2="320.8" stroke="#c9b68a" stroke-width="1" opacity="0.8"/>
</g></g>
<clipPath id="c4"><rect x="232.5" y="299.2" width="53.19999999999999" height="87.10000000000002"/></clipPath>
<clipPath id="c4L"><path d="M242.0,321.6 L242.0,362.0 A16.5,16.5 0 0 0 275.0,362.0 L275.0,321.6 Z"/></clipPath>
<g clip-path="url(#c4)"><g filter="url(#bl)">
<rect x="230.5" y="297.2" width="57.19999999999999" height="91.10000000000002" fill="#a0a9b5"/>
<path d="M275.0,299.2 L279.0,299.2 L279.0,364.0 A19.5,19.5 0 0 1 260.5,381.5 L258.5,378.5 Z" fill="#000" opacity="0.07"/>
<path d="M242.0,296.2 L242.0,362.0 A16.5,16.5 0 0 0 275.0,362.0 L275.0,296.2 Z" fill="#ffffff" opacity="0.22"/>
<path d="M242.0,321.6 L242.0,362.0 A16.5,16.5 0 0 0 275.0,362.0 L275.0,321.6 Z" fill="#d1d3a9" opacity="1.0"/>
<g clip-path="url(#c4L)">
<rect x="250" y="322" width="14" height="60" fill="#e2e4c4" opacity="0.5"/><rect x="242" y="366" width="33" height="14" fill="#e0d8a0" opacity="0.5"/>
</g>
<rect x="243.2" y="299.2" width="2.4" height="22.400000000000034" fill="#fff" opacity="0.28"/>
<rect x="270.2" y="299.2" width="2.2" height="22.400000000000034" fill="#fff" opacity="0.25"/>
<path d="M242.0,296.2 L242.0,362.0 A16.5,16.5 0 0 0 275.0,362.0 L275.0,296.2 Z" fill="none" stroke="#dfe6ea" stroke-width="0.9" opacity="0.55"/>
<line x1="242.0" y1="321.6" x2="275.0" y2="321.6" stroke="#b08a40" stroke-width="1" opacity="0.8"/>
</g></g>
<clipPath id="c5"><rect x="301.7" y="299.2" width="53.0" height="87.10000000000002"/></clipPath>
<clipPath id="c5L"><path d="M309.6,318.5 L309.6,359.0 A17.299999999999983,17.299999999999983 0 0 0 344.2,359.0 L344.2,318.5 Z"/></clipPath>
<g clip-path="url(#c5)"><g filter="url(#bl)">
<rect x="299.7" y="297.2" width="57.0" height="91.10000000000002" fill="#9ba3ae"/>
<path d="M344.2,299.2 L348.2,299.2 L348.2,361.0 A20.299999999999983,20.299999999999983 0 0 1 328.9,379.3 L326.9,376.3 Z" fill="#000" opacity="0.07"/>
<path d="M309.6,296.2 L309.6,359.0 A17.299999999999983,17.299999999999983 0 0 0 344.2,359.0 L344.2,296.2 Z" fill="#ffffff" opacity="0.22"/>
<path d="M309.6,318.5 L309.6,359.0 A17.299999999999983,17.299999999999983 0 0 0 344.2,359.0 L344.2,318.5 Z" fill="#ecd3a5" opacity="1.0"/>
<g clip-path="url(#c5L)">
<rect x="309" y="316" width="36" height="5.5" fill="#f1ece0" opacity="0.9"/><rect x="318" y="324" width="16" height="50" fill="#f2ddb8" opacity="0.5"/>
</g>
<rect x="310.8" y="299.2" width="2.4" height="19.30000000000001" fill="#fff" opacity="0.28"/>
<rect x="339.4" y="299.2" width="2.2" height="19.30000000000001" fill="#fff" opacity="0.25"/>
<path d="M309.6,296.2 L309.6,359.0 A17.299999999999983,17.299999999999983 0 0 0 344.2,359.0 L344.2,296.2 Z" fill="none" stroke="#dfe6ea" stroke-width="0.9" opacity="0.55"/>
<line x1="309.6" y1="318.5" x2="344.2" y2="318.5" stroke="#f3eee2" stroke-width="1" opacity="0.8"/>
</g></g>
<clipPath id="c6"><rect x="406.1" y="299.1" width="53.5" height="87.19999999999999"/></clipPath>
<clipPath id="c6L"><path d="M413.1,319.2 L413.1,360.35 A16.94999999999999,16.94999999999999 0 0 0 447.0,360.35 L447.0,319.2 Z"/></clipPath>
<g clip-path="url(#c6)"><g filter="url(#bl)">
<rect x="404.1" y="297.1" width="57.5" height="91.19999999999999" fill="#7e8b8e"/>
<path d="M447.0,299.1 L451.0,299.1 L451.0,362.35 A19.94999999999999,19.94999999999999 0 0 1 432.05,380.3 L430.05,377.3 Z" fill="#000" opacity="0.07"/>
<path d="M413.1,296.1 L413.1,360.35 A16.94999999999999,16.94999999999999 0 0 0 447.0,360.35 L447.0,296.1 Z" fill="#ffffff" opacity="0.16"/>
<path d="M413.1,319.2 L413.1,360.35 A16.94999999999999,16.94999999999999 0 0 0 447.0,360.35 L447.0,319.2 Z" fill="#a9b0b4" opacity="0.8"/>
<g clip-path="url(#c6L)">
<polygon points="412.0,323.0 420.0,321.0 430.0,322.0 440.0,321.0 448.0,323.0 448.0,380.0 412.0,380.0" fill="#e3dfe7" opacity="1"/>
<polygon points="413.0,340.0 418.0,338.0 421.0,352.0 416.0,362.0 413.0,362.0" fill="#a3a7ae" opacity="0.7"/>
<polygon points="426.0,344.0 436.0,341.0 440.0,350.0 430.0,354.0" fill="#c4c2ca" opacity="0.6"/>
<polygon points="432.0,362.0 444.0,360.0 446.0,372.0 436.0,374.0" fill="#cbc8cf" opacity="0.7"/>
<polygon points="425.1,332.2 419.2,332.7 422.4,328.2" fill="#b0b3ba" opacity="0.63"/>
<polygon points="424.1,341.2 422.3,343.7 415.8,343.7 416.6,339.2 421.1,337.5" fill="#ffffff" opacity="0.41"/>
<polygon points="421.4,367.6 423.8,364.2 425.2,368.5" fill="#b0b3ba" opacity="0.57"/>
<polygon points="419.9,345.9 416.7,345.9 417.6,336.5 420.8,338.1 426.7,343.4" fill="#b0b3ba" opacity="0.57"/>
<polygon points="444.5,338.8 443.5,341.8 440.1,342.1 440.2,339.0 441.7,336.2" fill="#c4c2ca" opacity="0.64"/>
<polygon points="419.6,378.8 424.3,373.4 426.5,379.1" fill="#f4f2f6" opacity="0.5"/>
<polygon points="419.1,338.2 425.9,338.5 428.6,346.2 420.9,346.3" fill="#ffffff" opacity="0.53"/>
<polygon points="438.3,361.0 437.3,364.1 432.8,362.4 434.1,358.2" fill="#c4c2ca" opacity="0.42"/>
<polygon points="421.2,353.2 422.4,357.6 417.3,358.7 415.8,355.4" fill="#f4f2f6" opacity="0.36"/>
<polygon points="419.2,366.8 419.7,372.4 413.6,376.1 413.2,367.7" fill="#ffffff" opacity="0.37"/>
<polygon points="439.8,335.7 440.0,332.5 445.8,333.0 443.6,338.2" fill="#c4c2ca" opacity="0.53"/>
<polygon points="430.5,340.2 425.2,342.1 426.0,337.8" fill="#f4f2f6" opacity="0.44"/>
<polygon points="437.0,377.4 431.7,379.6 430.1,374.3 434.9,374.1" fill="#c4c2ca" opacity="0.53"/>
<polygon points="439.8,333.4 433.8,330.9 440.4,326.1" fill="#b0b3ba" opacity="0.65"/>
<polygon points="434.9,367.9 439.8,369.8 436.1,372.7 433.4,371.3" fill="#b0b3ba" opacity="0.49"/>
<polygon points="431.3,326.2 428.0,331.0 421.9,327.8 424.8,322.3" fill="#b0b3ba" opacity="0.36"/>
<polygon points="425.3,365.9 420.5,366.7 418.6,363.6 422.3,361.4" fill="#f4f2f6" opacity="0.65"/>
<polygon points="427.1,328.5 428.6,325.4 432.8,328.0 429.2,330.4" fill="#f4f2f6" opacity="0.66"/>
<polygon points="433.9,362.4 433.1,367.1 424.6,365.8 424.5,360.3 427.0,358.6" fill="#c4c2ca" opacity="0.66"/>
<polygon points="446.8,374.1 443.6,376.2 439.7,371.9 440.7,368.1 446.6,368.8" fill="#f4f2f6" opacity="0.57"/>
<polygon points="437.5,325.2 431.2,329.1 432.1,323.1" fill="#b0b3ba" opacity="0.55"/>
<polygon points="427.3,339.6 419.0,337.8 420.3,332.3 425.5,332.4" fill="#f4f2f6" opacity="0.56"/>
<polygon points="429.7,377.5 423.1,378.2 420.6,375.1 420.1,369.4 429.1,368.7" fill="#f4f2f6" opacity="0.66"/>
<polygon points="440.4,370.1 434.1,365.0 432.3,359.7 440.2,360.1 443.7,363.2" fill="#f4f2f6" opacity="0.49"/>

</g>
<rect x="414.3" y="299.1" width="2.4" height="20.099999999999966" fill="#fff" opacity="0.28"/>
<rect x="442.2" y="299.1" width="2.2" height="20.099999999999966" fill="#fff" opacity="0.25"/>
<path d="M413.1,296.1 L413.1,360.35 A16.94999999999999,16.94999999999999 0 0 0 447.0,360.35 L447.0,296.1 Z" fill="none" stroke="#dfe6ea" stroke-width="0.9" opacity="0.55"/>
<line x1="413.1" y1="319.2" x2="447.0" y2="319.2" stroke="#c9b68a" stroke-width="1" opacity="0.8"/>
</g></g>
<clipPath id="d1"><rect x="24.2" y="414.2" width="71.7" height="72.19999999999999"/></clipPath>
<g clip-path="url(#d1)"><g filter="url(#bl)">
<rect x="22.2" y="412.2" width="75.7" height="76.19999999999999" fill="#2d2d2d"/>
<circle cx="60.1" cy="450.1" r="35" fill="#383838" opacity="1"/>
<circle cx="60.1" cy="450.1" r="34.3" fill="none" stroke="#9a9a9a" stroke-width="1.4"/>
<circle cx="60.1" cy="450.1" r="31.5" fill="none" stroke="#9a9a9a" stroke-width="0.8" opacity="0.6"/>
<polygon points="44.9,430.2 51.1,429.4 52.6,425.5 65.0,423.2 72.0,427.1 70.0,436.7 81.4,438.0 86.8,449.6 82.1,455.4 73.6,460.0 66.6,461.6 68.2,475.2 61.9,478.3 54.2,476.8 51.1,469.0 43.3,464.7 41.7,456.6 43.3,447.3 43.3,436.4" fill="#e8e8e8"/>
<polygon points="33.7,446.0 39.9,445.1 40.8,456.6 34.3,458.5" fill="#e4e4e4"/>
<polygon points="73.1,463.1 83.7,461.6 82.9,469.8 75.5,471.4" fill="#e6e6e6"/>
<polygon points="51.8,439.5 63.5,441.1 57.3,448.8 52.6,447.3" fill="#dadada"/>
<polygon points="44.9,456.6 55.7,458.2 54.2,469.0 46.4,464.4" fill="#dcdcdc"/>
<circle cx="53.4" cy="452.7" r="2.4" fill="#3a3a3a"/>
<circle cx="70.5" cy="444.5" r="1.6" fill="#505050"/>
</g></g>
<clipPath id="d2"><rect x="109.6" y="414.2" width="73.0" height="72.19999999999999"/></clipPath>
<g clip-path="url(#d2)"><g filter="url(#bl)">
<rect x="107.6" y="412.2" width="77.0" height="76.19999999999999" fill="#5f9d93"/>
<circle cx="147" cy="449.6" r="36" fill="#78b2a8" opacity="1"/>
<circle cx="147" cy="449.6" r="35.3" fill="none" stroke="#a8cfc7" stroke-width="1.4"/>
<circle cx="147" cy="449.6" r="32.5" fill="none" stroke="#a8cfc7" stroke-width="0.8" opacity="0.6"/>
<circle cx="147.5" cy="449" r="31" fill="none" stroke="#4f918a" stroke-width="3" opacity="0.6"/>
<circle cx="147.7" cy="447.3" r="25" fill="#ebebed"/>
<circle cx="150" cy="452" r="10" fill="#e4e2dc" opacity="0.7"/>
</g></g>
<clipPath id="d3"><rect x="196.1" y="414.1" width="72.70000000000002" height="72.69999999999999"/></clipPath>
<g clip-path="url(#d3)"><g filter="url(#bl)">
<rect x="194.1" y="412.1" width="76.70000000000002" height="76.69999999999999" fill="#79b8b4"/>
<circle cx="231.5" cy="450" r="35" fill="#8fc4c0" opacity="1"/>
<circle cx="231.5" cy="450" r="34.3" fill="none" stroke="#a9d2ce" stroke-width="1.4"/>
<circle cx="231.5" cy="450" r="31.5" fill="none" stroke="#a9d2ce" stroke-width="0.8" opacity="0.6"/>
<circle cx="230" cy="446" r="27.5" fill="#d4e6e5"/>
<path d="M209,440 C208,428 218,423 228,424 C240,423 250,430 251,442 C252,455 246,466 236,468 C226,470 212,464 210,452 Z" fill="#f3efe5"/>
<path d="M231,428 C237,434 240,445 238,456 C237,463 233,467 230,463 C231,452 229,440 228,431 Z" fill="#c9d6d3" opacity="0.95"/>
<path d="M227,466 C233,470 242,472 246,476 C240,478 232,476 228,472 Z" fill="#ece6d6"/>
<polygon points="224.9,431.2 227.6,436.8 220.2,432.5" fill="#e9e4d6" opacity="0.55"/>
<polygon points="227.1,468.0 224.9,463.4 228.7,464.0" fill="#fbf9f4" opacity="0.62"/>
<polygon points="230.9,459.8 231.5,465.7 227.0,463.2" fill="#fbf9f4" opacity="0.5"/>
<polygon points="246.8,432.9 245.3,429.1 250.9,427.3 252.5,433.7" fill="#fbf9f4" opacity="0.47"/>
<polygon points="237.4,448.7 233.1,448.3 234.1,445.0 238.7,444.8" fill="#e9e4d6" opacity="0.58"/>
<polygon points="215.0,459.9 212.0,462.7 209.1,458.7 213.1,457.5" fill="#fbf9f4" opacity="0.37"/>
<polygon points="211.8,433.7 215.9,433.6 217.2,437.7 213.7,437.4" fill="#fbf9f4" opacity="0.38"/>
<polygon points="219.1,443.0 214.5,444.1 213.2,440.5 215.2,437.4 218.2,441.0" fill="#e9e4d6" opacity="0.63"/>
<polygon points="239.2,455.6 241.3,453.0 245.4,455.5 245.9,457.4 241.2,459.9" fill="#fbf9f4" opacity="0.63"/>
<polygon points="215.1,448.7 221.9,451.2 216.8,455.5 213.0,455.6 209.5,451.2" fill="#e9e4d6" opacity="0.36"/>
</g></g>
<clipPath id="d4"><rect x="281.2" y="414.1" width="73.60000000000002" height="72.69999999999999"/></clipPath>
<g clip-path="url(#d4)"><g filter="url(#bl)">
<rect x="279.2" y="412.1" width="77.60000000000002" height="76.69999999999999" fill="#6ea99c"/>
<circle cx="318" cy="450" r="35.5" fill="#86bcb1" opacity="1"/>
<circle cx="318" cy="450" r="34.8" fill="none" stroke="#a5cfc5" stroke-width="1.4"/>
<circle cx="318" cy="450" r="32.0" fill="none" stroke="#a5cfc5" stroke-width="0.8" opacity="0.6"/>
<path d="M290,440 C290,425 302,418 315,418 C330,417 345,425 348,440 C350,456 344,472 330,478 C316,482 298,478 292,464 C288,456 289,448 290,440 Z" fill="#edeff0"/>
<polygon points="319.8,441.0 317.3,444.0 315.0,443.0 315.0,439.7 318.1,440.3" fill="#c2cfd3" opacity="0.48"/>
<polygon points="307.1,462.2 307.3,471.0 301.8,467.9 303.6,462.8" fill="#ffffff" opacity="0.53"/>
<polygon points="344.9,429.5 339.2,430.9 334.6,429.7 339.1,423.0 343.2,424.8" fill="#ffffff" opacity="0.46"/>
<polygon points="317.2,460.5 320.5,457.4 322.0,463.3 320.6,466.0 317.0,466.8" fill="#d3dde0" opacity="0.55"/>
<polygon points="319.3,444.6 325.2,443.7 323.1,446.7" fill="#ffffff" opacity="0.51"/>
<polygon points="302.9,428.3 299.7,427.9 299.8,425.4" fill="#e6eaec" opacity="0.46"/>
<polygon points="319.9,463.4 325.1,464.8 320.5,469.2" fill="#ffffff" opacity="0.47"/>
<polygon points="314.4,452.6 319.0,450.7 317.3,456.0" fill="#c2cfd3" opacity="0.43"/>
<polygon points="302.0,429.3 303.1,425.8 306.3,428.0 304.6,429.9" fill="#d3dde0" opacity="0.43"/>
<polygon points="292.6,466.0 292.6,461.8 296.5,464.9" fill="#d3dde0" opacity="0.76"/>
<polygon points="329.7,447.3 327.1,446.6 328.9,443.7" fill="#ffffff" opacity="0.41"/>
<polygon points="305.5,451.5 308.7,454.7 306.1,461.0 300.4,457.1 302.0,453.5" fill="#e6eaec" opacity="0.63"/>
<polygon points="339.1,474.5 337.1,470.6 341.8,471.1" fill="#ffffff" opacity="0.78"/>
<polygon points="298.5,472.1 299.4,475.7 297.7,480.8 294.8,480.4 293.7,474.5" fill="#ffffff" opacity="0.53"/>
<polygon points="326.2,447.2 332.6,447.0 331.5,453.7 327.2,450.8" fill="#e6eaec" opacity="0.61"/>
<polygon points="333.4,448.3 328.3,442.3 338.1,442.3" fill="#d3dde0" opacity="0.58"/>
<polygon points="311.5,465.9 307.7,463.5 309.0,461.4 313.2,462.9" fill="#d3dde0" opacity="0.76"/>
<polygon points="307.5,437.5 303.8,437.7 304.0,432.4 305.9,431.5 309.0,434.9" fill="#ffffff" opacity="0.74"/>
<polygon points="343.2,460.6 340.9,463.7 338.1,464.1 336.2,460.8 338.6,457.7" fill="#ffffff" opacity="0.7"/>
<polygon points="329.5,450.0 323.5,444.9 329.8,442.4" fill="#d3dde0" opacity="0.45"/>
<polygon points="345.9,423.0 347.1,427.2 344.0,427.6 342.2,423.5" fill="#e6eaec" opacity="0.41"/>
<polygon points="341.7,438.6 342.9,435.4 347.0,438.1 346.0,439.8" fill="#c2cfd3" opacity="0.57"/>
<polygon points="296.7,444.4 292.7,448.3 290.6,443.6" fill="#ffffff" opacity="0.79"/>
<polygon points="294.3,452.3 294.6,447.3 297.4,447.7 299.0,449.8 295.8,452.5" fill="#ffffff" opacity="0.8"/>
<polygon points="315.7,442.6 321.9,443.1 320.0,447.0" fill="#c2cfd3" opacity="0.53"/>
<polygon points="300.2,463.2 298.4,460.6 301.1,458.2 304.2,459.4 304.3,462.8" fill="#d3dde0" opacity="0.44"/>
<polygon points="328.0,473.6 329.0,475.6 327.4,477.0 326.4,474.6" fill="#c2cfd3" opacity="0.59"/>
<polygon points="313.1,423.2 316.3,426.5 311.3,427.0" fill="#ffffff" opacity="0.54"/>
<polygon points="340.6,423.8 342.9,422.7 344.0,425.3 341.3,426.0" fill="#ffffff" opacity="0.72"/>
<polygon points="295.4,458.6 295.5,461.9 292.7,463.2 289.6,459.6 290.4,456.1" fill="#c2cfd3" opacity="0.78"/>
</g></g>
<clipPath id="d5"><rect x="395.9" y="413.2" width="73.90000000000003" height="73.69999999999999"/></clipPath>
<g clip-path="url(#d5)"><g filter="url(#bl)">
<rect x="393.9" y="411.2" width="77.90000000000003" height="77.69999999999999" fill="#1f1f1f"/>
<circle cx="432.7" cy="450.4" r="35.4" fill="#2c2c2c" opacity="1"/>
<circle cx="432.7" cy="450.4" r="34.699999999999996" fill="none" stroke="#979797" stroke-width="1.4"/>
<circle cx="432.7" cy="450.4" r="31.9" fill="none" stroke="#979797" stroke-width="0.8" opacity="0.6"/>
<rect x="429.3" y="429.0" width="8.0" height="6.8" fill="#e6e6e8" transform="rotate(21 433.3 433.0)"/>
<rect x="439.2" y="429.9" width="6.3" height="5.4" fill="#e6e6e8" transform="rotate(58 442.3 433.0)"/>
<rect x="416.5" y="436.2" width="7.7" height="6.6" fill="#e6e6e8" transform="rotate(3 420.4 440.1)"/>
<rect x="423.2" y="436.5" width="7.8" height="6.7" fill="#e6e6e8" transform="rotate(64 427.1 440.5)"/>
<rect x="430.6" y="436.8" width="7.8" height="6.6" fill="#e6e6e8" transform="rotate(84 434.5 440.7)"/>
<rect x="437.8" y="435.3" width="6.9" height="5.8" fill="#e6e6e8" transform="rotate(87 441.2 438.7)"/>
<rect x="447.0" y="435.9" width="6.7" height="5.7" fill="#e6e6e8" transform="rotate(35 450.4 439.2)"/>
<rect x="453.9" y="436.1" width="7.9" height="6.7" fill="#e6e6e8" transform="rotate(61 457.9 440.1)"/>
<rect x="409.2" y="445.2" width="7.7" height="6.6" fill="#e6e6e8" transform="rotate(15 413.1 449.1)"/>
<rect x="417.8" y="445.6" width="6.4" height="5.5" fill="#e6e6e8" transform="rotate(64 421.0 448.8)"/>
<rect x="424.3" y="444.0" width="7.7" height="6.6" fill="#e6e6e8" transform="rotate(6 428.2 447.8)"/>
<rect x="433.1" y="443.2" width="6.3" height="5.4" fill="#e6e6e8" transform="rotate(37 436.3 446.4)"/>
<rect x="438.2" y="444.8" width="7.2" height="6.1" fill="#e6e6e8" transform="rotate(4 441.8 448.4)"/>
<rect x="444.7" y="444.3" width="8.0" height="6.8" fill="#e6e6e8" transform="rotate(79 448.6 448.3)"/>
<rect x="454.0" y="445.5" width="7.2" height="6.1" fill="#e6e6e8" transform="rotate(7 457.6 449.1)"/>
<rect x="407.4" y="451.3" width="6.3" height="5.4" fill="#e6e6e8" transform="rotate(55 410.6 454.5)"/>
<rect x="414.3" y="452.6" width="7.8" height="6.6" fill="#e6e6e8" transform="rotate(86 418.2 456.5)"/>
<rect x="423.2" y="451.7" width="7.2" height="6.1" fill="#e6e6e8" transform="rotate(58 426.8 455.3)"/>
<rect x="431.5" y="452.3" width="6.9" height="5.8" fill="#e6e6e8" transform="rotate(46 435.0 455.8)"/>
<rect x="439.5" y="451.1" width="7.0" height="6.0" fill="#e6e6e8" transform="rotate(88 443.1 454.6)"/>
<rect x="447.1" y="450.9" width="6.0" height="5.1" fill="#e6e6e8" transform="rotate(52 450.1 453.9)"/>
<rect x="408.7" y="459.4" width="7.4" height="6.3" fill="#e6e6e8" transform="rotate(32 412.4 463.1)"/>
<rect x="424.1" y="461.0" width="7.2" height="6.1" fill="#e6e6e8" transform="rotate(41 427.7 464.6)"/>
<rect x="430.7" y="459.2" width="7.2" height="6.1" fill="#e6e6e8" transform="rotate(33 434.3 462.8)"/>
<rect x="438.2" y="459.3" width="7.1" height="6.1" fill="#e6e6e8" transform="rotate(2 441.8 462.8)"/>
<rect x="447.5" y="459.4" width="6.5" height="5.5" fill="#e6e6e8" transform="rotate(72 450.7 462.6)"/>
<rect x="453.3" y="459.7" width="6.6" height="5.6" fill="#e6e6e8" transform="rotate(9 456.7 463.0)"/>
<rect x="422.8" y="467.1" width="6.9" height="5.9" fill="#e6e6e8" transform="rotate(80 426.2 470.5)"/>
<rect x="430.2" y="466.1" width="7.6" height="6.5" fill="#e6e6e8" transform="rotate(17 434.0 469.9)"/>
<rect x="439.8" y="466.4" width="7.3" height="6.2" fill="#e6e6e8" transform="rotate(73 443.4 470.1)"/>
<rect x="447.1" y="466.7" width="7.6" height="6.4" fill="#e6e6e8" transform="rotate(26 450.9 470.5)"/>
<circle cx="420" cy="446" r="1.6" fill="#3a3a3a"/>
<circle cx="431" cy="452" r="1.8" fill="#3a3a3a"/>
<circle cx="445" cy="441" r="1.5" fill="#3a3a3a"/>
<circle cx="438" cy="466" r="1.6" fill="#3a3a3a"/>
<circle cx="452" cy="458" r="1.4" fill="#3a3a3a"/>
</g></g>
</svg>
</body></html>
